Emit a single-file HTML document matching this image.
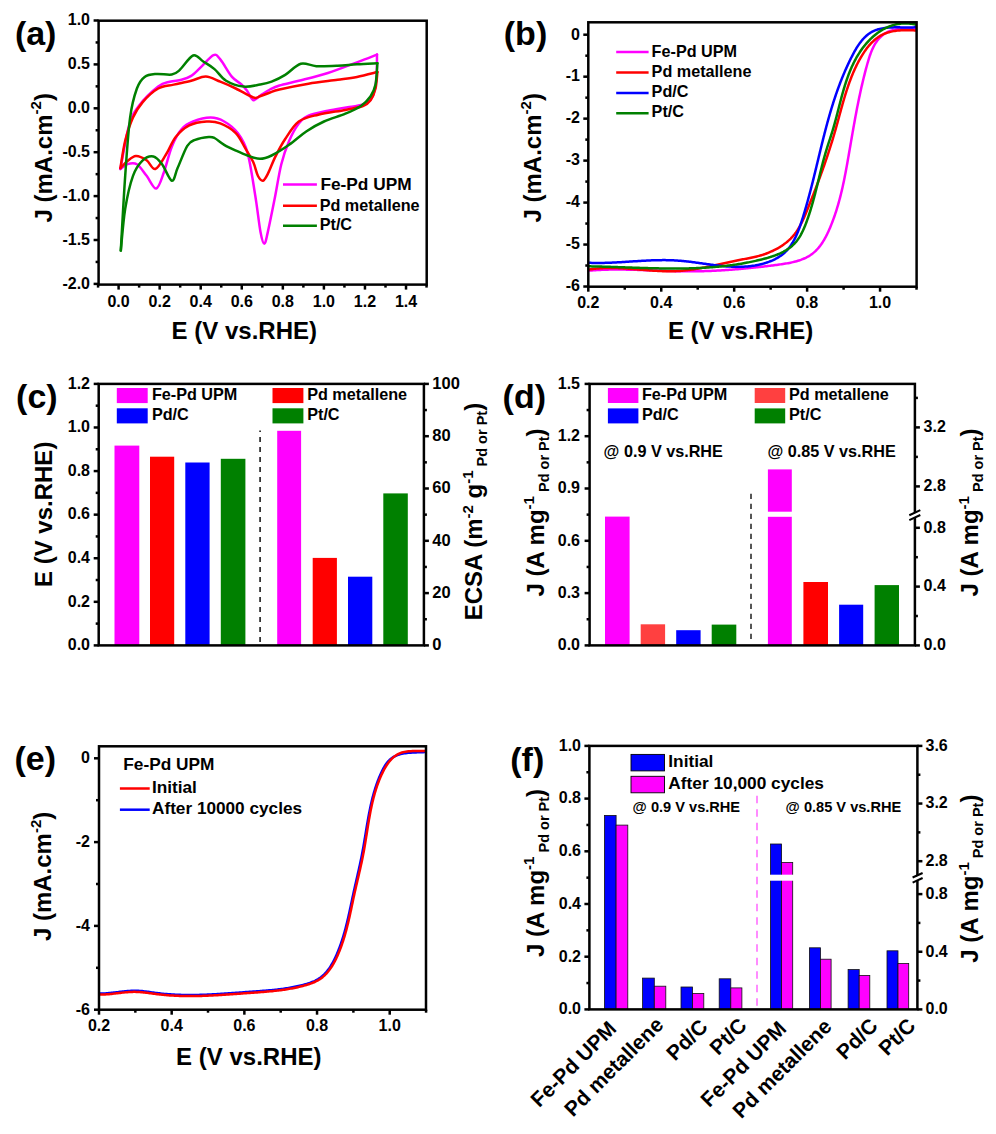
<!DOCTYPE html><html><head><meta charset="utf-8"><style>html,body{margin:0;padding:0;background:#fff;}svg{display:block;font-family:"Liberation Sans",sans-serif;}</style></head><body>
<svg width="996" height="1134" viewBox="0 0 996 1134" font-family="Liberation Sans" font-weight="bold" fill="#000">
<rect x="0" y="0" width="996" height="1134" fill="#fff"/>
<text x="14.90" y="44.60" font-size="34" text-anchor="start" >(a)</text>
<text x="503.80" y="44.60" font-size="34" text-anchor="start" >(b)</text>
<text x="16.10" y="407.80" font-size="34" text-anchor="start" >(c)</text>
<text x="502.60" y="407.80" font-size="34" text-anchor="start" >(d)</text>
<text x="14.50" y="769.60" font-size="34" text-anchor="start" >(e)</text>
<text x="510.30" y="770.80" font-size="34" text-anchor="start" >(f)</text>
<path d="M120.40,169.00 C121.85,161.73 126.03,135.90 129.10,125.40 C132.17,114.90 133.95,112.47 138.80,106.00 C143.65,99.53 153.02,90.65 158.20,86.60 C163.38,82.55 166.02,82.83 169.90,81.70 C173.78,80.57 177.95,80.77 181.50,79.80 C185.05,78.83 187.97,78.00 191.20,75.90 C194.43,73.80 197.18,70.67 200.90,67.20 C204.62,63.73 210.27,56.40 213.50,55.10 C216.73,53.80 217.22,55.77 220.30,59.40 C223.38,63.03 228.43,72.70 232.00,76.90 C235.57,81.10 239.12,82.18 241.70,84.60 C244.28,87.02 245.57,88.80 247.50,91.40 C249.43,94.00 251.05,99.60 253.30,100.20 C255.55,100.80 258.22,96.78 261.00,95.00 C263.78,93.22 266.93,91.08 270.00,89.50 C273.07,87.92 274.60,86.95 279.40,85.50 C284.20,84.05 290.72,82.88 298.80,80.80 C306.88,78.72 318.20,76.08 327.90,73.00 C337.60,69.92 348.82,65.37 357.00,62.30 C365.18,59.23 373.67,55.88 377.00,54.60" fill="none" stroke="#FF00FF" stroke-width="2.5" stroke-linejoin="round" stroke-linecap="round"/>
<path d="M377.00,54.60 C376.90,58.63 377.13,71.85 376.40,78.80 C375.67,85.75 374.53,92.10 372.60,96.30 C370.67,100.50 368.68,102.22 364.80,104.00 C360.92,105.78 355.45,105.87 349.30,107.00 C343.15,108.13 334.70,109.35 327.90,110.80 C321.10,112.25 313.35,113.60 308.50,115.70 C303.65,117.80 302.03,119.20 298.80,123.40 C295.57,127.60 292.02,134.10 289.10,140.90 C286.18,147.70 283.72,154.50 281.30,164.20 C278.88,173.90 276.85,187.78 274.60,199.10 C272.35,210.42 269.52,224.65 267.80,232.10 C266.08,239.55 265.52,243.82 264.30,243.80 C263.08,243.78 262.02,240.10 260.50,232.00 C258.98,223.90 257.37,208.43 255.20,195.20 C253.03,181.97 250.40,162.95 247.50,152.60 C244.60,142.25 241.68,138.28 237.80,133.10 C233.92,127.92 228.73,124.08 224.20,121.50 C219.67,118.92 215.78,117.60 210.60,117.60 C205.42,117.60 197.95,119.55 193.10,121.50 C188.25,123.45 185.05,125.10 181.50,129.30 C177.95,133.50 174.72,139.58 171.80,146.70 C168.88,153.82 166.58,165.03 164.00,172.00 C161.42,178.97 159.20,187.87 156.30,188.50 C153.40,189.13 149.83,179.85 146.60,175.80 C143.37,171.75 140.13,166.13 136.90,164.20 C133.67,162.27 129.95,163.40 127.20,164.20 C124.45,165.00 121.53,168.20 120.40,169.00" fill="none" stroke="#FF00FF" stroke-width="2.5" stroke-linejoin="round" stroke-linecap="round"/>
<path d="M120.40,168.10 C121.20,163.57 123.10,149.32 125.20,140.90 C127.30,132.48 130.08,124.07 133.00,117.60 C135.92,111.13 138.50,106.95 142.70,102.10 C146.90,97.25 153.03,91.42 158.20,88.50 C163.37,85.58 168.20,85.88 173.70,84.60 C179.20,83.32 185.85,82.15 191.20,80.80 C196.55,79.45 200.95,76.35 205.80,76.50 C210.65,76.65 215.30,79.70 220.30,81.70 C225.30,83.70 230.30,85.87 235.80,88.50 C241.30,91.13 249.27,96.20 253.30,97.50 C257.33,98.80 257.22,97.13 260.00,96.30 C262.78,95.47 266.77,93.63 270.00,92.50 C273.23,91.37 272.98,90.97 279.40,89.50 C285.82,88.03 298.80,85.32 308.50,83.70 C318.20,82.08 329.52,80.93 337.60,79.80 C345.68,78.67 350.37,78.20 357.00,76.90 C363.63,75.60 374.00,72.82 377.40,72.00" fill="none" stroke="#FF0000" stroke-width="2.5" stroke-linejoin="round" stroke-linecap="round"/>
<path d="M377.40,72.00 C377.08,74.75 376.63,83.80 375.50,88.50 C374.37,93.20 372.70,97.28 370.60,100.20 C368.50,103.12 367.10,104.38 362.90,106.00 C358.70,107.62 352.85,108.45 345.40,109.90 C337.95,111.35 325.97,112.77 318.20,114.70 C310.43,116.63 304.30,117.45 298.80,121.50 C293.30,125.55 289.08,133.18 285.20,139.00 C281.32,144.82 278.40,150.58 275.50,156.40 C272.60,162.22 269.88,169.85 267.80,173.90 C265.72,177.95 264.63,180.35 263.00,180.70 C261.37,181.05 259.62,179.07 258.00,176.00 C256.38,172.93 255.38,166.85 253.30,162.30 C251.22,157.75 248.42,153.57 245.50,148.70 C242.58,143.83 240.00,137.32 235.80,133.10 C231.60,128.88 225.15,125.33 220.30,123.40 C215.45,121.47 211.87,121.17 206.70,121.50 C201.53,121.83 194.47,122.82 189.30,125.40 C184.13,127.98 179.58,132.15 175.70,137.00 C171.82,141.85 169.40,149.17 166.00,154.50 C162.60,159.83 158.53,168.03 155.30,169.00 C152.07,169.97 149.83,162.47 146.60,160.30 C143.37,158.13 139.13,155.83 135.90,156.00 C132.67,156.17 129.78,159.28 127.20,161.30 C124.62,163.32 121.53,166.97 120.40,168.10" fill="none" stroke="#FF0000" stroke-width="2.5" stroke-linejoin="round" stroke-linecap="round"/>
<path d="M120.80,250.60 C121.53,238.13 123.65,197.97 125.20,175.80 C126.75,153.63 128.15,132.15 130.10,117.60 C132.05,103.05 134.48,95.28 136.90,88.50 C139.32,81.72 141.37,79.32 144.60,76.90 C147.83,74.48 151.77,74.40 156.30,74.00 C160.83,73.60 167.92,75.15 171.80,74.50 C175.68,73.85 176.05,73.27 179.60,70.10 C183.15,66.93 189.22,56.97 193.10,55.50 C196.98,54.03 199.33,59.03 202.90,61.30 C206.47,63.57 210.63,65.85 214.50,69.10 C218.37,72.35 221.25,77.88 226.10,80.80 C230.95,83.72 237.95,85.97 243.60,86.60 C249.25,87.23 255.33,85.42 260.00,84.60 C264.67,83.78 267.40,83.32 271.60,81.70 C275.80,80.08 280.33,77.90 285.20,74.90 C290.07,71.90 295.62,65.15 300.80,63.70 C305.98,62.25 310.17,65.85 316.30,66.20 C322.43,66.55 330.82,66.12 337.60,65.80 C344.38,65.48 350.37,64.72 357.00,64.30 C363.63,63.88 374.00,63.47 377.40,63.30" fill="none" stroke="#008000" stroke-width="2.5" stroke-linejoin="round" stroke-linecap="round"/>
<path d="M377.40,63.30 C377.08,66.85 376.63,79.10 375.50,84.60 C374.37,90.10 373.03,92.73 370.60,96.30 C368.17,99.87 365.10,103.10 360.90,106.00 C356.70,108.90 351.55,111.12 345.40,113.70 C339.25,116.28 330.47,118.58 324.00,121.50 C317.53,124.42 312.42,127.32 306.60,131.20 C300.78,135.08 294.93,140.75 289.10,144.80 C283.27,148.85 276.45,153.17 271.60,155.50 C266.75,157.83 264.02,158.80 260.00,158.80 C255.98,158.80 251.53,156.87 247.50,155.50 C243.47,154.13 239.68,152.38 235.80,150.60 C231.92,148.82 227.75,146.90 224.20,144.80 C220.65,142.70 217.08,139.30 214.50,138.00 C211.92,136.70 211.93,136.68 208.70,137.00 C205.47,137.32 198.67,138.43 195.10,139.90 C191.53,141.37 190.22,141.10 187.30,145.80 C184.38,150.50 180.18,162.28 177.60,168.10 C175.02,173.92 174.38,181.35 171.80,180.70 C169.22,180.05 165.17,168.25 162.10,164.20 C159.03,160.15 156.63,157.05 153.40,156.40 C150.17,155.75 146.10,157.07 142.70,160.30 C139.30,163.53 135.92,167.72 133.00,175.80 C130.08,183.88 127.23,196.33 125.20,208.80 C123.17,221.27 121.53,243.63 120.80,250.60" fill="none" stroke="#008000" stroke-width="2.5" stroke-linejoin="round" stroke-linecap="round"/>
<rect x="98.60" y="20.70" width="328.10" height="263.90" fill="none" stroke="#000" stroke-width="2.5"/>
<line x1="93.60" y1="283.90" x2="98.60" y2="283.90" stroke="#000" stroke-width="2.5" />
<line x1="93.60" y1="240.00" x2="98.60" y2="240.00" stroke="#000" stroke-width="2.5" />
<line x1="93.60" y1="196.10" x2="98.60" y2="196.10" stroke="#000" stroke-width="2.5" />
<line x1="93.60" y1="152.20" x2="98.60" y2="152.20" stroke="#000" stroke-width="2.5" />
<line x1="93.60" y1="108.30" x2="98.60" y2="108.30" stroke="#000" stroke-width="2.5" />
<line x1="93.60" y1="64.40" x2="98.60" y2="64.40" stroke="#000" stroke-width="2.5" />
<line x1="93.60" y1="20.50" x2="98.60" y2="20.50" stroke="#000" stroke-width="2.5" />
<line x1="95.60" y1="261.95" x2="98.60" y2="261.95" stroke="#000" stroke-width="2.5" />
<line x1="95.60" y1="218.05" x2="98.60" y2="218.05" stroke="#000" stroke-width="2.5" />
<line x1="95.60" y1="174.15" x2="98.60" y2="174.15" stroke="#000" stroke-width="2.5" />
<line x1="95.60" y1="130.25" x2="98.60" y2="130.25" stroke="#000" stroke-width="2.5" />
<line x1="95.60" y1="86.35" x2="98.60" y2="86.35" stroke="#000" stroke-width="2.5" />
<line x1="95.60" y1="42.45" x2="98.60" y2="42.45" stroke="#000" stroke-width="2.5" />
<text x="90.00" y="288.70" font-size="16" text-anchor="end" >-2.0</text>
<text x="90.00" y="244.80" font-size="16" text-anchor="end" >-1.5</text>
<text x="90.00" y="200.90" font-size="16" text-anchor="end" >-1.0</text>
<text x="90.00" y="157.00" font-size="16" text-anchor="end" >-0.5</text>
<text x="90.00" y="113.10" font-size="16" text-anchor="end" >0.0</text>
<text x="90.00" y="69.20" font-size="16" text-anchor="end" >0.5</text>
<text x="90.00" y="25.30" font-size="16" text-anchor="end" >1.0</text>
<line x1="118.60" y1="284.60" x2="118.60" y2="289.60" stroke="#000" stroke-width="2.5" />
<line x1="159.66" y1="284.60" x2="159.66" y2="289.60" stroke="#000" stroke-width="2.5" />
<line x1="200.72" y1="284.60" x2="200.72" y2="289.60" stroke="#000" stroke-width="2.5" />
<line x1="241.78" y1="284.60" x2="241.78" y2="289.60" stroke="#000" stroke-width="2.5" />
<line x1="282.84" y1="284.60" x2="282.84" y2="289.60" stroke="#000" stroke-width="2.5" />
<line x1="323.90" y1="284.60" x2="323.90" y2="289.60" stroke="#000" stroke-width="2.5" />
<line x1="364.96" y1="284.60" x2="364.96" y2="289.60" stroke="#000" stroke-width="2.5" />
<line x1="406.02" y1="284.60" x2="406.02" y2="289.60" stroke="#000" stroke-width="2.5" />
<line x1="98.07" y1="284.60" x2="98.07" y2="287.60" stroke="#000" stroke-width="2.5" />
<line x1="139.13" y1="284.60" x2="139.13" y2="287.60" stroke="#000" stroke-width="2.5" />
<line x1="180.19" y1="284.60" x2="180.19" y2="287.60" stroke="#000" stroke-width="2.5" />
<line x1="221.25" y1="284.60" x2="221.25" y2="287.60" stroke="#000" stroke-width="2.5" />
<line x1="262.31" y1="284.60" x2="262.31" y2="287.60" stroke="#000" stroke-width="2.5" />
<line x1="303.37" y1="284.60" x2="303.37" y2="287.60" stroke="#000" stroke-width="2.5" />
<line x1="344.43" y1="284.60" x2="344.43" y2="287.60" stroke="#000" stroke-width="2.5" />
<line x1="385.49" y1="284.60" x2="385.49" y2="287.60" stroke="#000" stroke-width="2.5" />
<line x1="426.55" y1="284.60" x2="426.55" y2="287.60" stroke="#000" stroke-width="2.5" />
<text x="118.60" y="306.50" font-size="16" text-anchor="middle" >0.0</text>
<text x="159.66" y="306.50" font-size="16" text-anchor="middle" >0.2</text>
<text x="200.72" y="306.50" font-size="16" text-anchor="middle" >0.4</text>
<text x="241.78" y="306.50" font-size="16" text-anchor="middle" >0.6</text>
<text x="282.84" y="306.50" font-size="16" text-anchor="middle" >0.8</text>
<text x="323.90" y="306.50" font-size="16" text-anchor="middle" >1.0</text>
<text x="364.96" y="306.50" font-size="16" text-anchor="middle" >1.2</text>
<text x="406.02" y="306.50" font-size="16" text-anchor="middle" >1.4</text>
<text x="171.60" y="338.50" font-size="24" text-anchor="start" >E (V vs.RHE)</text>
<text transform="translate(51.80,222.50) rotate(-90)" font-size="24">J (mA.cm<tspan font-size="15" dy="-10.5">-2</tspan><tspan dy="10.5">)</tspan></text>
<line x1="283.00" y1="184.60" x2="316.90" y2="184.60" stroke="#FF00FF" stroke-width="2.5" />
<line x1="283.00" y1="205.70" x2="316.90" y2="205.70" stroke="#FF0000" stroke-width="2.5" />
<line x1="283.00" y1="225.70" x2="316.90" y2="225.70" stroke="#008000" stroke-width="2.5" />
<text x="320.40" y="189.60" font-size="17.3" text-anchor="start" >Fe-Pd UPM</text>
<text x="319.70" y="210.70" font-size="16.2" text-anchor="start" >Pd metallene</text>
<text x="319.70" y="230.20" font-size="16.2" text-anchor="start" >Pt/C</text>
<clipPath id="cb"><rect x="588.3" y="22.3" width="328.30000000000007" height="264.4"/></clipPath>
<g clip-path="url(#cb)">
<path d="M588.36,270.67 L589.57,270.57 L590.78,270.47 L592.00,270.38 L593.22,270.29 L594.44,270.21 L595.66,270.14 L596.88,270.07 L598.10,270.00 L599.33,269.94 L600.56,269.89 L601.78,269.83 L603.01,269.79 L604.24,269.75 L605.48,269.71 L606.71,269.68 L607.94,269.65 L609.18,269.62 L610.41,269.60 L611.65,269.58 L612.89,269.57 L614.13,269.56 L615.37,269.55 L616.61,269.55 L617.85,269.55 L619.09,269.55 L620.34,269.56 L621.58,269.56 L622.83,269.58 L624.07,269.59 L625.32,269.61 L626.57,269.63 L627.82,269.65 L629.06,269.67 L630.31,269.70 L631.56,269.73 L632.81,269.76 L634.06,269.79 L635.31,269.82 L636.56,269.86 L637.81,269.89 L639.07,269.93 L640.32,269.97 L641.57,270.01 L642.82,270.05 L644.07,270.09 L645.33,270.14 L646.58,270.18 L647.83,270.22 L649.08,270.27 L650.34,270.31 L651.59,270.36 L652.84,270.41 L654.09,270.45 L655.35,270.50 L656.60,270.54 L657.85,270.59 L659.10,270.63 L660.35,270.68 L661.60,270.72 L662.85,270.76 L664.10,270.81 L665.35,270.85 L666.60,270.89 L667.85,270.93 L669.09,270.97 L670.34,271.00 L671.59,271.04 L672.83,271.07 L674.08,271.10 L675.32,271.13 L676.57,271.16 L677.81,271.19 L679.05,271.21 L680.29,271.24 L681.53,271.25 L682.77,271.27 L684.01,271.29 L685.24,271.30 L686.48,271.31 L687.72,271.31 L688.95,271.32 L690.18,271.32 L691.41,271.31 L692.64,271.31 L693.87,271.30 L695.10,271.29 L696.33,271.27 L697.56,271.26 L698.78,271.24 L700.01,271.21 L701.23,271.19 L702.46,271.16 L703.68,271.13 L704.90,271.09 L706.12,271.06 L707.35,271.02 L708.57,270.97 L709.79,270.93 L711.01,270.88 L712.23,270.83 L713.45,270.77 L714.67,270.72 L715.89,270.66 L717.11,270.60 L718.33,270.53 L719.55,270.47 L720.77,270.40 L722.00,270.32 L723.22,270.25 L724.44,270.17 L725.66,270.09 L726.88,270.01 L728.10,269.93 L729.33,269.84 L730.55,269.75 L731.77,269.66 L733.00,269.57 L734.22,269.47 L735.45,269.37 L736.68,269.27 L737.91,269.17 L739.13,269.06 L740.36,268.95 L741.59,268.84 L742.83,268.73 L744.06,268.61 L745.29,268.50 L746.53,268.38 L747.76,268.26 L749.00,268.13 L750.24,268.01 L751.48,267.88 L752.72,267.75 L753.96,267.62 L755.21,267.48 L756.45,267.35 L757.70,267.21 L758.95,267.07 L760.20,266.93 L761.45,266.78 L762.71,266.64 L763.97,266.49 L765.22,266.34 L766.48,266.19 L767.75,266.03 L769.01,265.88 L770.28,265.72 L771.55,265.56 L772.82,265.40 L774.09,265.24 L775.37,265.07 L776.64,264.91 L777.92,264.74 L779.20,264.56 L780.48,264.38 L781.76,264.20 L783.04,264.01 L784.31,263.81 L785.58,263.60 L786.85,263.38 L788.11,263.15 L789.36,262.91 L790.61,262.66 L791.85,262.39 L793.08,262.11 L794.30,261.81 L795.51,261.50 L796.71,261.17 L797.89,260.82 L799.07,260.45 L800.23,260.06 L801.38,259.65 L802.51,259.21 L803.62,258.75 L804.72,258.27 L805.80,257.76 L806.86,257.23 L807.90,256.67 L808.93,256.07 L809.93,255.45 L810.90,254.80 L811.86,254.12 L812.79,253.41 L813.70,252.66 L814.59,251.89 L815.45,251.08 L816.29,250.25 L817.11,249.39 L817.91,248.50 L818.69,247.59 L819.45,246.65 L820.19,245.69 L820.91,244.71 L821.62,243.71 L822.30,242.69 L822.97,241.65 L823.62,240.59 L824.26,239.52 L824.88,238.43 L825.49,237.33 L826.08,236.21 L826.66,235.08 L827.22,233.95 L827.78,232.80 L828.31,231.65 L828.84,230.48 L829.36,229.31 L829.86,228.14 L830.36,226.96 L830.85,225.78 L831.32,224.60 L831.79,223.41 L832.25,222.23 L832.70,221.04 L833.15,219.86 L833.58,218.67 L834.01,217.48 L834.43,216.29 L834.84,215.10 L835.24,213.90 L835.64,212.71 L836.02,211.52 L836.41,210.32 L836.78,209.12 L837.15,207.93 L837.51,206.73 L837.86,205.53 L838.21,204.33 L838.55,203.13 L838.89,201.93 L839.22,200.73 L839.54,199.52 L839.86,198.32 L840.17,197.12 L840.48,195.91 L840.78,194.71 L841.08,193.50 L841.37,192.29 L841.66,191.09 L841.94,189.88 L842.22,188.67 L842.50,187.46 L842.76,186.25 L843.03,185.04 L843.29,183.83 L843.55,182.62 L843.80,181.41 L844.05,180.20 L844.30,178.99 L844.55,177.78 L844.79,176.56 L845.03,175.35 L845.26,174.14 L845.49,172.93 L845.72,171.71 L845.95,170.50 L846.18,169.29 L846.40,168.07 L846.62,166.86 L846.84,165.65 L847.06,164.43 L847.28,163.22 L847.50,162.00 L847.71,160.79 L847.93,159.58 L848.14,158.36 L848.35,157.15 L848.56,155.93 L848.77,154.72 L848.98,153.51 L849.19,152.29 L849.40,151.08 L849.61,149.87 L849.82,148.65 L850.03,147.44 L850.24,146.23 L850.45,145.01 L850.66,143.80 L850.87,142.59 L851.08,141.37 L851.29,140.16 L851.50,138.95 L851.71,137.73 L851.92,136.52 L852.13,135.31 L852.34,134.09 L852.55,132.88 L852.76,131.66 L852.97,130.45 L853.19,129.24 L853.40,128.02 L853.62,126.81 L853.83,125.59 L854.05,124.38 L854.27,123.16 L854.49,121.95 L854.71,120.73 L854.93,119.52 L855.15,118.30 L855.38,117.09 L855.60,115.87 L855.83,114.65 L856.06,113.44 L856.29,112.22 L856.52,111.00 L856.76,109.79 L856.99,108.57 L857.23,107.35 L857.47,106.13 L857.71,104.91 L857.95,103.70 L858.20,102.48 L858.45,101.26 L858.70,100.04 L858.95,98.82 L859.20,97.60 L859.46,96.38 L859.72,95.16 L859.98,93.94 L860.24,92.71 L860.51,91.49 L860.78,90.27 L861.05,89.05 L861.33,87.82 L861.60,86.60 L861.89,85.38 L862.17,84.15 L862.46,82.93 L862.75,81.70 L863.04,80.47 L863.34,79.25 L863.64,78.02 L863.94,76.79 L864.25,75.57 L864.56,74.34 L864.87,73.11 L865.19,71.88 L865.51,70.65 L865.83,69.42 L866.16,68.19 L866.49,66.96 L866.83,65.72 L867.17,64.49 L867.51,63.26 L867.87,62.03 L868.23,60.81 L868.59,59.58 L868.97,58.37 L869.36,57.16 L869.76,55.96 L870.17,54.77 L870.60,53.59 L871.04,52.43 L871.49,51.27 L871.97,50.13 L872.46,49.01 L872.97,47.91 L873.50,46.82 L874.06,45.76 L874.63,44.71 L875.23,43.69 L875.86,42.69 L876.51,41.72 L877.19,40.77 L877.89,39.86 L878.63,38.97 L879.39,38.11 L880.19,37.28 L881.02,36.49 L881.88,35.72 L882.77,35.00 L883.71,34.31 L884.67,33.66 L885.68,33.05 L886.73,32.48 L887.81,31.95 L888.94,31.46 L890.10,31.02 L891.30,30.61 L892.52,30.25 L893.78,29.92 L895.05,29.62 L896.35,29.37 L897.66,29.14 L898.99,28.95 L900.32,28.79 L901.66,28.65 L903.00,28.55 L904.34,28.47 L905.68,28.42 L907.01,28.39 L908.32,28.38 L909.62,28.40 L910.90,28.43 L912.16,28.49 L913.40,28.56 L914.60,28.64 L915.77,28.74 L916.91,28.86" fill="none" stroke="#FF00FF" stroke-width="2.5" stroke-linejoin="round" stroke-linecap="round"/>
<path d="M588.33,269.72 L589.49,269.53 L590.65,269.34 L591.82,269.17 L592.98,269.02 L594.15,268.87 L595.32,268.74 L596.49,268.62 L597.66,268.51 L598.83,268.41 L600.00,268.32 L601.17,268.24 L602.34,268.18 L603.52,268.12 L604.69,268.08 L605.87,268.04 L607.04,268.01 L608.22,267.99 L609.39,267.98 L610.57,267.98 L611.75,267.98 L612.93,268.00 L614.11,268.02 L615.29,268.04 L616.47,268.08 L617.65,268.12 L618.83,268.16 L620.01,268.21 L621.19,268.27 L622.37,268.33 L623.56,268.40 L624.74,268.47 L625.92,268.54 L627.11,268.62 L628.29,268.70 L629.47,268.79 L630.66,268.88 L631.84,268.97 L633.02,269.06 L634.21,269.15 L635.39,269.25 L636.58,269.34 L637.76,269.44 L638.94,269.54 L640.13,269.64 L641.31,269.74 L642.50,269.84 L643.68,269.93 L644.86,270.03 L646.05,270.12 L647.23,270.22 L648.41,270.31 L649.60,270.40 L650.78,270.48 L651.96,270.57 L653.15,270.65 L654.33,270.72 L655.51,270.80 L656.69,270.87 L657.87,270.93 L659.05,270.99 L660.23,271.04 L661.41,271.09 L662.59,271.14 L663.77,271.17 L664.94,271.20 L666.12,271.23 L667.30,271.25 L668.47,271.26 L669.65,271.26 L670.82,271.25 L672.00,271.24 L673.17,271.22 L674.34,271.18 L675.51,271.14 L676.68,271.09 L677.85,271.03 L679.02,270.96 L680.19,270.88 L681.36,270.79 L682.53,270.69 L683.69,270.59 L684.86,270.47 L686.02,270.35 L687.19,270.21 L688.35,270.07 L689.51,269.92 L690.67,269.77 L691.84,269.60 L693.00,269.43 L694.16,269.26 L695.32,269.07 L696.48,268.88 L697.64,268.69 L698.80,268.49 L699.95,268.28 L701.11,268.07 L702.27,267.85 L703.43,267.63 L704.59,267.41 L705.75,267.18 L706.90,266.95 L708.06,266.71 L709.22,266.47 L710.37,266.23 L711.53,265.99 L712.69,265.74 L713.85,265.49 L715.00,265.24 L716.16,264.99 L717.32,264.73 L718.48,264.48 L719.63,264.22 L720.79,263.97 L721.95,263.71 L723.11,263.45 L724.27,263.20 L725.43,262.94 L726.59,262.68 L727.75,262.43 L728.91,262.18 L730.07,261.93 L731.23,261.68 L732.39,261.43 L733.56,261.18 L734.72,260.94 L735.88,260.70 L737.05,260.47 L738.21,260.23 L739.38,260.00 L740.54,259.78 L741.71,259.55 L742.88,259.33 L744.04,259.11 L745.21,258.89 L746.38,258.67 L747.54,258.45 L748.71,258.22 L749.87,257.99 L751.03,257.75 L752.19,257.51 L753.35,257.26 L754.51,257.00 L755.66,256.73 L756.82,256.45 L757.97,256.15 L759.11,255.85 L760.25,255.53 L761.39,255.19 L762.53,254.84 L763.66,254.47 L764.79,254.09 L765.91,253.70 L767.02,253.29 L768.13,252.86 L769.23,252.42 L770.32,251.96 L771.41,251.48 L772.49,250.99 L773.56,250.49 L774.61,249.96 L775.66,249.42 L776.70,248.87 L777.73,248.30 L778.75,247.71 L779.75,247.11 L780.75,246.48 L781.73,245.85 L782.69,245.19 L783.65,244.52 L784.59,243.83 L785.51,243.13 L786.42,242.41 L787.31,241.67 L788.19,240.91 L789.05,240.14 L789.89,239.35 L790.72,238.54 L791.53,237.71 L792.32,236.87 L793.09,236.00 L793.84,235.12 L794.57,234.23 L795.28,233.31 L795.97,232.38 L796.64,231.42 L797.29,230.46 L797.92,229.47 L798.53,228.48 L799.13,227.47 L799.71,226.44 L800.28,225.41 L800.83,224.36 L801.37,223.30 L801.90,222.23 L802.42,221.16 L802.92,220.07 L803.42,218.98 L803.91,217.89 L804.39,216.78 L804.86,215.68 L805.33,214.57 L805.79,213.46 L806.25,212.34 L806.70,211.23 L807.15,210.11 L807.60,209.00 L808.05,207.88 L808.50,206.77 L808.94,205.66 L809.38,204.55 L809.83,203.44 L810.27,202.33 L810.71,201.22 L811.14,200.11 L811.58,199.01 L812.02,197.90 L812.45,196.80 L812.88,195.69 L813.31,194.59 L813.74,193.48 L814.17,192.38 L814.59,191.28 L815.02,190.18 L815.44,189.07 L815.86,187.97 L816.28,186.87 L816.70,185.77 L817.12,184.67 L817.53,183.57 L817.94,182.47 L818.36,181.37 L818.77,180.27 L819.17,179.17 L819.58,178.07 L819.98,176.97 L820.39,175.87 L820.79,174.77 L821.19,173.67 L821.59,172.57 L821.98,171.47 L822.38,170.37 L822.77,169.27 L823.16,168.17 L823.55,167.06 L823.94,165.96 L824.33,164.86 L824.71,163.75 L825.09,162.65 L825.47,161.54 L825.85,160.44 L826.23,159.33 L826.60,158.23 L826.98,157.12 L827.35,156.01 L827.72,154.90 L828.08,153.79 L828.45,152.68 L828.81,151.57 L829.17,150.45 L829.53,149.34 L829.89,148.22 L830.25,147.11 L830.60,145.99 L830.96,144.87 L831.31,143.75 L831.65,142.63 L832.00,141.51 L832.34,140.38 L832.69,139.26 L833.03,138.13 L833.37,137.00 L833.70,135.87 L834.04,134.74 L834.37,133.61 L834.70,132.47 L835.03,131.33 L835.35,130.20 L835.68,129.06 L836.00,127.91 L836.32,126.77 L836.64,125.62 L836.95,124.48 L837.27,123.33 L837.59,122.18 L837.90,121.03 L838.21,119.88 L838.53,118.73 L838.84,117.58 L839.15,116.43 L839.47,115.27 L839.78,114.12 L840.09,112.97 L840.41,111.81 L840.73,110.66 L841.04,109.51 L841.36,108.35 L841.68,107.20 L842.00,106.05 L842.33,104.90 L842.65,103.75 L842.98,102.60 L843.31,101.45 L843.64,100.30 L843.98,99.15 L844.32,98.01 L844.66,96.86 L845.01,95.72 L845.36,94.58 L845.71,93.44 L846.07,92.30 L846.43,91.17 L846.79,90.04 L847.16,88.90 L847.54,87.78 L847.92,86.65 L848.30,85.53 L848.69,84.40 L849.09,83.29 L849.49,82.17 L849.90,81.06 L850.31,79.95 L850.73,78.84 L851.16,77.74 L851.59,76.64 L852.03,75.55 L852.48,74.45 L852.93,73.37 L853.39,72.28 L853.86,71.20 L854.34,70.12 L854.82,69.05 L855.31,67.99 L855.81,66.92 L856.32,65.86 L856.84,64.81 L857.37,63.76 L857.91,62.72 L858.45,61.68 L859.01,60.65 L859.57,59.62 L860.15,58.59 L860.73,57.58 L861.33,56.56 L861.93,55.56 L862.55,54.56 L863.18,53.57 L863.82,52.59 L864.47,51.62 L865.13,50.65 L865.81,49.70 L866.50,48.77 L867.20,47.84 L867.92,46.93 L868.65,46.04 L869.40,45.16 L870.16,44.30 L870.93,43.46 L871.73,42.64 L872.53,41.84 L873.36,41.06 L874.20,40.30 L875.06,39.56 L875.93,38.85 L876.83,38.16 L877.74,37.50 L878.67,36.86 L879.62,36.26 L880.59,35.68 L881.57,35.13 L882.58,34.61 L883.61,34.12 L884.66,33.67 L885.73,33.25 L886.82,32.86 L887.93,32.50 L889.06,32.17 L890.20,31.87 L891.36,31.60 L892.53,31.36 L893.71,31.14 L894.91,30.95 L896.11,30.78 L897.33,30.63 L898.55,30.51 L899.77,30.41 L901.01,30.32 L902.24,30.26 L903.48,30.21 L904.72,30.18 L905.96,30.17 L907.20,30.17 L908.44,30.18 L909.67,30.21 L910.90,30.25 L912.12,30.30 L913.33,30.36 L914.54,30.42 L915.73,30.50 L916.91,30.58" fill="none" stroke="#FF0000" stroke-width="2.5" stroke-linejoin="round" stroke-linecap="round"/>
<path d="M588.31,262.76 L589.52,262.81 L590.73,262.86 L591.94,262.89 L593.15,262.92 L594.36,262.94 L595.58,262.96 L596.79,262.97 L598.00,262.97 L599.22,262.97 L600.43,262.96 L601.65,262.94 L602.86,262.92 L604.08,262.90 L605.30,262.87 L606.51,262.84 L607.73,262.80 L608.95,262.76 L610.17,262.71 L611.38,262.66 L612.60,262.61 L613.82,262.55 L615.04,262.49 L616.26,262.43 L617.48,262.36 L618.70,262.29 L619.92,262.22 L621.14,262.15 L622.36,262.08 L623.58,262.00 L624.81,261.93 L626.03,261.85 L627.25,261.77 L628.47,261.69 L629.69,261.61 L630.91,261.53 L632.14,261.45 L633.36,261.37 L634.58,261.29 L635.80,261.22 L637.02,261.14 L638.25,261.06 L639.47,260.99 L640.69,260.92 L641.91,260.84 L643.13,260.77 L644.35,260.71 L645.58,260.64 L646.80,260.58 L648.02,260.52 L649.24,260.47 L650.46,260.41 L651.68,260.36 L652.90,260.32 L654.12,260.28 L655.34,260.24 L656.56,260.21 L657.78,260.18 L659.00,260.16 L660.22,260.14 L661.44,260.13 L662.65,260.12 L663.87,260.12 L665.09,260.12 L666.31,260.13 L667.52,260.15 L668.74,260.17 L669.96,260.20 L671.17,260.24 L672.38,260.29 L673.60,260.34 L674.81,260.40 L676.03,260.47 L677.24,260.54 L678.45,260.63 L679.66,260.72 L680.87,260.82 L682.08,260.93 L683.29,261.04 L684.50,261.17 L685.71,261.29 L686.92,261.43 L688.13,261.57 L689.34,261.71 L690.54,261.86 L691.75,262.01 L692.96,262.17 L694.17,262.33 L695.37,262.49 L696.58,262.65 L697.79,262.82 L698.99,262.99 L700.20,263.16 L701.41,263.33 L702.61,263.50 L703.82,263.67 L705.03,263.84 L706.23,264.01 L707.44,264.18 L708.65,264.35 L709.85,264.51 L711.06,264.67 L712.27,264.83 L713.48,264.99 L714.68,265.14 L715.89,265.29 L717.10,265.43 L718.31,265.57 L719.52,265.71 L720.73,265.84 L721.94,265.96 L723.15,266.07 L724.37,266.18 L725.58,266.29 L726.79,266.38 L728.00,266.46 L729.22,266.54 L730.43,266.61 L731.65,266.67 L732.87,266.72 L734.08,266.76 L735.30,266.79 L736.52,266.80 L737.74,266.81 L738.96,266.80 L740.18,266.78 L741.40,266.75 L742.63,266.71 L743.85,266.65 L745.08,266.58 L746.30,266.50 L747.53,266.40 L748.76,266.28 L749.99,266.15 L751.22,266.00 L752.45,265.84 L753.68,265.66 L754.91,265.47 L756.14,265.25 L757.36,265.02 L758.58,264.78 L759.80,264.51 L761.01,264.22 L762.21,263.92 L763.41,263.60 L764.60,263.26 L765.78,262.90 L766.95,262.52 L768.11,262.12 L769.25,261.70 L770.39,261.25 L771.51,260.79 L772.62,260.31 L773.71,259.80 L774.79,259.27 L775.85,258.72 L776.89,258.15 L777.91,257.55 L778.92,256.94 L779.90,256.29 L780.87,255.63 L781.81,254.94 L782.73,254.22 L783.63,253.48 L784.50,252.72 L785.34,251.93 L786.17,251.12 L786.96,250.28 L787.74,249.42 L788.48,248.53 L789.21,247.62 L789.91,246.70 L790.60,245.75 L791.26,244.78 L791.90,243.79 L792.53,242.79 L793.13,241.76 L793.72,240.72 L794.29,239.67 L794.84,238.60 L795.38,237.52 L795.90,236.42 L796.41,235.31 L796.90,234.19 L797.38,233.06 L797.85,231.92 L798.31,230.77 L798.75,229.61 L799.19,228.45 L799.61,227.28 L800.03,226.10 L800.44,224.91 L800.84,223.73 L801.24,222.54 L801.63,221.34 L802.01,220.15 L802.39,218.95 L802.76,217.75 L803.14,216.56 L803.50,215.36 L803.87,214.16 L804.23,212.97 L804.59,211.77 L804.94,210.58 L805.29,209.38 L805.64,208.18 L805.99,206.99 L806.33,205.79 L806.67,204.60 L807.01,203.40 L807.34,202.21 L807.67,201.02 L808.00,199.82 L808.33,198.63 L808.65,197.43 L808.97,196.24 L809.29,195.05 L809.61,193.85 L809.93,192.66 L810.24,191.47 L810.55,190.28 L810.86,189.09 L811.16,187.90 L811.47,186.70 L811.77,185.51 L812.08,184.32 L812.38,183.13 L812.68,181.94 L812.97,180.75 L813.27,179.57 L813.56,178.38 L813.86,177.19 L814.15,176.00 L814.44,174.81 L814.73,173.63 L815.02,172.44 L815.31,171.25 L815.60,170.07 L815.88,168.88 L816.17,167.70 L816.46,166.51 L816.74,165.33 L817.03,164.15 L817.31,162.96 L817.60,161.78 L817.88,160.60 L818.16,159.42 L818.45,158.23 L818.73,157.05 L819.02,155.87 L819.30,154.69 L819.58,153.51 L819.87,152.33 L820.15,151.16 L820.44,149.98 L820.73,148.80 L821.01,147.62 L821.30,146.45 L821.59,145.27 L821.88,144.10 L822.17,142.92 L822.46,141.75 L822.75,140.58 L823.04,139.40 L823.34,138.23 L823.63,137.06 L823.93,135.89 L824.23,134.72 L824.52,133.55 L824.83,132.38 L825.13,131.21 L825.43,130.04 L825.74,128.88 L826.04,127.71 L826.35,126.54 L826.67,125.38 L826.98,124.21 L827.29,123.05 L827.61,121.89 L827.93,120.72 L828.25,119.56 L828.58,118.40 L828.91,117.24 L829.24,116.08 L829.57,114.92 L829.90,113.76 L830.24,112.61 L830.58,111.45 L830.92,110.29 L831.27,109.14 L831.62,107.99 L831.97,106.83 L832.33,105.68 L832.69,104.53 L833.05,103.38 L833.41,102.23 L833.78,101.08 L834.16,99.93 L834.53,98.78 L834.91,97.63 L835.30,96.49 L835.68,95.34 L836.07,94.20 L836.47,93.05 L836.87,91.91 L837.27,90.77 L837.68,89.63 L838.09,88.49 L838.51,87.35 L838.93,86.21 L839.35,85.07 L839.78,83.94 L840.22,82.80 L840.66,81.67 L841.10,80.53 L841.55,79.40 L842.00,78.27 L842.46,77.14 L842.92,76.01 L843.39,74.88 L843.86,73.75 L844.34,72.62 L844.83,71.50 L845.32,70.37 L845.81,69.25 L846.31,68.12 L846.82,67.00 L847.33,65.88 L847.85,64.76 L848.37,63.64 L848.90,62.52 L849.44,61.41 L849.98,60.29 L850.53,59.18 L851.08,58.06 L851.64,56.95 L852.21,55.84 L852.78,54.73 L853.36,53.63 L853.95,52.53 L854.55,51.44 L855.16,50.36 L855.79,49.28 L856.42,48.22 L857.07,47.17 L857.73,46.13 L858.41,45.11 L859.10,44.11 L859.80,43.12 L860.53,42.15 L861.27,41.20 L862.03,40.28 L862.81,39.37 L863.61,38.50 L864.43,37.64 L865.27,36.82 L866.14,36.02 L867.02,35.26 L867.94,34.52 L868.87,33.82 L869.84,33.16 L870.83,32.52 L871.84,31.93 L872.89,31.37 L873.96,30.86 L875.06,30.38 L876.20,29.95 L877.36,29.56 L878.55,29.20 L879.77,28.89 L881.01,28.61 L882.27,28.37 L883.55,28.16 L884.84,27.98 L886.15,27.83 L887.47,27.70 L888.80,27.59 L890.14,27.51 L891.48,27.45 L892.82,27.40 L894.17,27.37 L895.51,27.36 L896.85,27.35 L898.18,27.36 L899.50,27.37 L900.81,27.39 L902.11,27.41 L903.39,27.43 L904.66,27.45 L905.90,27.47 L907.13,27.48 L908.32,27.49 L909.49,27.49 L910.63,27.47 L911.74,27.45 L912.82,27.41 L913.86,27.35 L914.86,27.27 L915.82,27.17 L916.73,27.05" fill="none" stroke="#0000FF" stroke-width="2.5" stroke-linejoin="round" stroke-linecap="round"/>
<path d="M588.29,266.33 L589.49,266.35 L590.70,266.37 L591.91,266.39 L593.12,266.41 L594.33,266.43 L595.54,266.46 L596.75,266.48 L597.95,266.51 L599.16,266.54 L600.37,266.57 L601.58,266.60 L602.79,266.63 L603.99,266.67 L605.20,266.70 L606.41,266.74 L607.62,266.77 L608.83,266.81 L610.03,266.85 L611.24,266.89 L612.45,266.92 L613.66,266.96 L614.86,267.00 L616.07,267.05 L617.28,267.09 L618.49,267.13 L619.69,267.17 L620.90,267.21 L622.11,267.25 L623.31,267.30 L624.52,267.34 L625.73,267.38 L626.94,267.43 L628.14,267.47 L629.35,267.51 L630.56,267.55 L631.76,267.60 L632.97,267.64 L634.18,267.68 L635.38,267.72 L636.59,267.76 L637.79,267.80 L639.00,267.84 L640.21,267.88 L641.41,267.92 L642.62,267.96 L643.83,268.00 L645.03,268.04 L646.24,268.07 L647.44,268.11 L648.65,268.14 L649.85,268.17 L651.06,268.21 L652.27,268.24 L653.47,268.27 L654.68,268.30 L655.88,268.32 L657.09,268.35 L658.29,268.37 L659.50,268.40 L660.70,268.42 L661.91,268.44 L663.11,268.46 L664.32,268.47 L665.52,268.49 L666.73,268.50 L667.93,268.51 L669.14,268.52 L670.34,268.53 L671.55,268.54 L672.75,268.54 L673.95,268.54 L675.16,268.54 L676.36,268.54 L677.57,268.54 L678.77,268.53 L679.97,268.52 L681.18,268.51 L682.38,268.49 L683.59,268.48 L684.79,268.46 L685.99,268.44 L687.20,268.41 L688.40,268.38 L689.60,268.35 L690.81,268.32 L692.01,268.29 L693.21,268.25 L694.42,268.21 L695.62,268.16 L696.82,268.11 L698.03,268.06 L699.23,268.01 L700.43,267.95 L701.63,267.89 L702.84,267.83 L704.04,267.76 L705.24,267.69 L706.44,267.61 L707.65,267.53 L708.85,267.45 L710.05,267.37 L711.25,267.28 L712.45,267.18 L713.66,267.09 L714.86,266.99 L716.06,266.88 L717.26,266.77 L718.46,266.66 L719.66,266.54 L720.87,266.42 L722.07,266.30 L723.27,266.17 L724.47,266.03 L725.67,265.90 L726.87,265.75 L728.07,265.61 L729.27,265.45 L730.47,265.30 L731.67,265.14 L732.87,264.97 L734.07,264.80 L735.27,264.63 L736.47,264.45 L737.68,264.26 L738.88,264.07 L740.08,263.88 L741.28,263.68 L742.47,263.47 L743.67,263.26 L744.87,263.04 L746.07,262.82 L747.27,262.60 L748.47,262.36 L749.67,262.13 L750.87,261.88 L752.07,261.64 L753.27,261.38 L754.47,261.12 L755.67,260.86 L756.87,260.59 L758.06,260.31 L759.26,260.03 L760.46,259.74 L761.66,259.44 L762.86,259.14 L764.05,258.83 L765.24,258.51 L766.43,258.19 L767.62,257.85 L768.80,257.50 L769.97,257.15 L771.14,256.78 L772.30,256.40 L773.45,256.00 L774.60,255.59 L775.73,255.17 L776.85,254.74 L777.97,254.28 L779.07,253.81 L780.16,253.33 L781.23,252.83 L782.29,252.31 L783.34,251.77 L784.37,251.21 L785.39,250.63 L786.39,250.03 L787.37,249.40 L788.33,248.76 L789.27,248.09 L790.19,247.40 L791.09,246.69 L791.97,245.95 L792.83,245.18 L793.66,244.39 L794.47,243.57 L795.26,242.73 L796.02,241.85 L796.75,240.95 L797.46,240.02 L798.15,239.07 L798.81,238.09 L799.46,237.09 L800.08,236.07 L800.68,235.03 L801.26,233.97 L801.82,232.89 L802.37,231.80 L802.90,230.70 L803.41,229.58 L803.91,228.45 L804.40,227.31 L804.87,226.16 L805.33,225.01 L805.79,223.85 L806.23,222.69 L806.66,221.52 L807.08,220.35 L807.50,219.19 L807.91,218.02 L808.31,216.85 L808.70,215.68 L809.09,214.51 L809.47,213.34 L809.85,212.17 L810.22,211.00 L810.58,209.82 L810.94,208.65 L811.29,207.48 L811.64,206.31 L811.98,205.13 L812.32,203.96 L812.65,202.79 L812.98,201.61 L813.30,200.44 L813.62,199.27 L813.94,198.09 L814.25,196.92 L814.56,195.75 L814.87,194.58 L815.17,193.40 L815.47,192.23 L815.77,191.06 L816.06,189.88 L816.36,188.71 L816.65,187.54 L816.94,186.37 L817.23,185.20 L817.51,184.03 L817.80,182.86 L818.09,181.69 L818.37,180.52 L818.66,179.35 L818.94,178.18 L819.22,177.01 L819.51,175.85 L819.80,174.68 L820.08,173.51 L820.37,172.35 L820.66,171.19 L820.95,170.02 L821.24,168.86 L821.53,167.70 L821.82,166.54 L822.12,165.38 L822.42,164.22 L822.72,163.06 L823.03,161.91 L823.33,160.75 L823.64,159.60 L823.96,158.45 L824.28,157.29 L824.60,156.14 L824.93,154.99 L825.26,153.85 L825.59,152.70 L825.93,151.55 L826.27,150.41 L826.62,149.27 L826.98,148.13 L827.34,146.99 L827.70,145.85 L828.07,144.71 L828.43,143.57 L828.80,142.43 L829.17,141.30 L829.55,140.16 L829.92,139.02 L830.29,137.88 L830.66,136.74 L831.03,135.59 L831.39,134.45 L831.76,133.30 L832.11,132.15 L832.47,131.00 L832.82,129.85 L833.16,128.69 L833.50,127.53 L833.84,126.37 L834.17,125.20 L834.50,124.04 L834.82,122.87 L835.14,121.70 L835.46,120.52 L835.78,119.35 L836.09,118.17 L836.40,117.00 L836.70,115.82 L837.01,114.64 L837.32,113.46 L837.62,112.28 L837.92,111.10 L838.23,109.91 L838.53,108.73 L838.83,107.55 L839.13,106.36 L839.44,105.18 L839.74,104.00 L840.05,102.82 L840.35,101.63 L840.66,100.45 L840.97,99.27 L841.29,98.09 L841.60,96.92 L841.92,95.74 L842.24,94.56 L842.57,93.39 L842.90,92.22 L843.23,91.04 L843.57,89.88 L843.91,88.71 L844.26,87.54 L844.61,86.38 L844.97,85.22 L845.33,84.06 L845.70,82.91 L846.08,81.76 L846.46,80.61 L846.86,79.47 L847.25,78.32 L847.66,77.19 L848.07,76.05 L848.49,74.92 L848.92,73.79 L849.36,72.67 L849.81,71.55 L850.26,70.44 L850.73,69.33 L851.21,68.22 L851.69,67.12 L852.19,66.03 L852.70,64.94 L853.22,63.86 L853.74,62.78 L854.29,61.70 L854.84,60.63 L855.40,59.57 L855.98,58.52 L856.57,57.47 L857.18,56.42 L857.79,55.38 L858.42,54.35 L859.07,53.33 L859.72,52.31 L860.40,51.30 L861.08,50.30 L861.78,49.31 L862.49,48.33 L863.22,47.36 L863.95,46.40 L864.71,45.46 L865.47,44.52 L866.25,43.60 L867.04,42.69 L867.85,41.79 L868.66,40.91 L869.49,40.04 L870.34,39.19 L871.20,38.35 L872.06,37.53 L872.95,36.73 L873.84,35.94 L874.75,35.18 L875.67,34.43 L876.60,33.70 L877.55,32.99 L878.51,32.31 L879.48,31.64 L880.46,30.99 L881.46,30.37 L882.47,29.77 L883.49,29.20 L884.52,28.64 L885.57,28.11 L886.63,27.61 L887.70,27.13 L888.78,26.68 L889.87,26.26 L890.98,25.86 L892.10,25.49 L893.23,25.15 L894.37,24.84 L895.52,24.55 L896.69,24.30 L897.87,24.08 L899.06,23.89 L900.26,23.73 L901.47,23.60 L902.69,23.51 L903.93,23.45 L905.18,23.42 L906.43,23.43 L907.70,23.48 L908.99,23.56 L910.28,23.67 L911.58,23.82 L912.90,24.02 L914.22,24.24 L915.56,24.51 L916.91,24.82" fill="none" stroke="#008000" stroke-width="2.5" stroke-linejoin="round" stroke-linecap="round"/>
</g>
<rect x="588.30" y="22.30" width="328.30" height="264.40" fill="none" stroke="#000" stroke-width="2.5"/>
<line x1="583.30" y1="286.52" x2="588.30" y2="286.52" stroke="#000" stroke-width="2.5" />
<line x1="583.30" y1="244.55" x2="588.30" y2="244.55" stroke="#000" stroke-width="2.5" />
<line x1="583.30" y1="202.58" x2="588.30" y2="202.58" stroke="#000" stroke-width="2.5" />
<line x1="583.30" y1="160.61" x2="588.30" y2="160.61" stroke="#000" stroke-width="2.5" />
<line x1="583.30" y1="118.64" x2="588.30" y2="118.64" stroke="#000" stroke-width="2.5" />
<line x1="583.30" y1="76.67" x2="588.30" y2="76.67" stroke="#000" stroke-width="2.5" />
<line x1="583.30" y1="34.70" x2="588.30" y2="34.70" stroke="#000" stroke-width="2.5" />
<line x1="585.30" y1="265.53" x2="588.30" y2="265.53" stroke="#000" stroke-width="2.5" />
<line x1="585.30" y1="223.56" x2="588.30" y2="223.56" stroke="#000" stroke-width="2.5" />
<line x1="585.30" y1="181.59" x2="588.30" y2="181.59" stroke="#000" stroke-width="2.5" />
<line x1="585.30" y1="139.62" x2="588.30" y2="139.62" stroke="#000" stroke-width="2.5" />
<line x1="585.30" y1="97.66" x2="588.30" y2="97.66" stroke="#000" stroke-width="2.5" />
<line x1="585.30" y1="55.69" x2="588.30" y2="55.69" stroke="#000" stroke-width="2.5" />
<text x="580.00" y="291.32" font-size="16" text-anchor="end" >-6</text>
<text x="580.00" y="249.35" font-size="16" text-anchor="end" >-5</text>
<text x="580.00" y="207.38" font-size="16" text-anchor="end" >-4</text>
<text x="580.00" y="165.41" font-size="16" text-anchor="end" >-3</text>
<text x="580.00" y="123.44" font-size="16" text-anchor="end" >-2</text>
<text x="580.00" y="81.47" font-size="16" text-anchor="end" >-1</text>
<text x="580.00" y="39.50" font-size="16" text-anchor="end" >0</text>
<line x1="588.30" y1="286.70" x2="588.30" y2="291.70" stroke="#000" stroke-width="2.5" />
<line x1="661.24" y1="286.70" x2="661.24" y2="291.70" stroke="#000" stroke-width="2.5" />
<line x1="734.18" y1="286.70" x2="734.18" y2="291.70" stroke="#000" stroke-width="2.5" />
<line x1="807.12" y1="286.70" x2="807.12" y2="291.70" stroke="#000" stroke-width="2.5" />
<line x1="880.06" y1="286.70" x2="880.06" y2="291.70" stroke="#000" stroke-width="2.5" />
<line x1="624.77" y1="286.70" x2="624.77" y2="289.70" stroke="#000" stroke-width="2.5" />
<line x1="697.71" y1="286.70" x2="697.71" y2="289.70" stroke="#000" stroke-width="2.5" />
<line x1="770.65" y1="286.70" x2="770.65" y2="289.70" stroke="#000" stroke-width="2.5" />
<line x1="843.59" y1="286.70" x2="843.59" y2="289.70" stroke="#000" stroke-width="2.5" />
<line x1="916.53" y1="286.70" x2="916.53" y2="289.70" stroke="#000" stroke-width="2.5" />
<text x="588.30" y="308.00" font-size="16" text-anchor="middle" >0.2</text>
<text x="661.24" y="308.00" font-size="16" text-anchor="middle" >0.4</text>
<text x="734.18" y="308.00" font-size="16" text-anchor="middle" >0.6</text>
<text x="807.12" y="308.00" font-size="16" text-anchor="middle" >0.8</text>
<text x="880.06" y="308.00" font-size="16" text-anchor="middle" >1.0</text>
<text x="667.90" y="338.50" font-size="24" text-anchor="start" >E (V vs.RHE)</text>
<text transform="translate(541.00,222.50) rotate(-90)" font-size="24">J (mA.cm<tspan font-size="15" dy="-10.5">-2</tspan><tspan dy="10.5">)</tspan></text>
<line x1="616.20" y1="52.10" x2="648.60" y2="52.10" stroke="#FF00FF" stroke-width="2.5" />
<line x1="616.20" y1="72.50" x2="648.60" y2="72.50" stroke="#FF0000" stroke-width="2.5" />
<line x1="616.20" y1="93.00" x2="648.60" y2="93.00" stroke="#0000FF" stroke-width="2.5" />
<line x1="616.20" y1="113.20" x2="648.60" y2="113.20" stroke="#008000" stroke-width="2.5" />
<text x="651.60" y="57.20" font-size="16.2" text-anchor="start" >Fe-Pd UPM</text>
<text x="651.60" y="77.30" font-size="16.2" text-anchor="start" >Pd metallene</text>
<text x="651.60" y="97.30" font-size="16.2" text-anchor="start" >Pd/C</text>
<text x="651.60" y="117.40" font-size="16.2" text-anchor="start" >Pt/C</text>
<rect x="114.50" y="445.60" width="24.80" height="199.80" fill="#FF00FF"/>
<rect x="150.00" y="456.70" width="24.20" height="188.70" fill="#FF0000"/>
<rect x="185.30" y="462.50" width="24.30" height="182.90" fill="#0000FF"/>
<rect x="220.80" y="458.80" width="24.60" height="186.60" fill="#008000"/>
<rect x="277.20" y="430.80" width="23.90" height="214.60" fill="#FF00FF"/>
<rect x="312.70" y="557.90" width="24.20" height="87.50" fill="#FF0000"/>
<rect x="348.00" y="576.70" width="24.30" height="68.70" fill="#0000FF"/>
<rect x="383.30" y="493.40" width="24.50" height="152.00" fill="#008000"/>
<line x1="260.10" y1="430.50" x2="260.10" y2="645.00" stroke="#333" stroke-width="1.8" stroke-dasharray="5.2,4.8" stroke-dashoffset="3.6"/>
<rect x="98.70" y="383.90" width="325.20" height="261.50" fill="none" stroke="#000" stroke-width="2.5"/>
<line x1="93.70" y1="645.40" x2="98.70" y2="645.40" stroke="#000" stroke-width="2.5" />
<line x1="93.70" y1="601.82" x2="98.70" y2="601.82" stroke="#000" stroke-width="2.5" />
<line x1="93.70" y1="558.23" x2="98.70" y2="558.23" stroke="#000" stroke-width="2.5" />
<line x1="93.70" y1="514.65" x2="98.70" y2="514.65" stroke="#000" stroke-width="2.5" />
<line x1="93.70" y1="471.07" x2="98.70" y2="471.07" stroke="#000" stroke-width="2.5" />
<line x1="93.70" y1="427.48" x2="98.70" y2="427.48" stroke="#000" stroke-width="2.5" />
<line x1="93.70" y1="383.90" x2="98.70" y2="383.90" stroke="#000" stroke-width="2.5" />
<line x1="95.70" y1="623.61" x2="98.70" y2="623.61" stroke="#000" stroke-width="2.5" />
<line x1="95.70" y1="580.02" x2="98.70" y2="580.02" stroke="#000" stroke-width="2.5" />
<line x1="95.70" y1="536.44" x2="98.70" y2="536.44" stroke="#000" stroke-width="2.5" />
<line x1="95.70" y1="492.86" x2="98.70" y2="492.86" stroke="#000" stroke-width="2.5" />
<line x1="95.70" y1="449.27" x2="98.70" y2="449.27" stroke="#000" stroke-width="2.5" />
<line x1="95.70" y1="405.69" x2="98.70" y2="405.69" stroke="#000" stroke-width="2.5" />
<text x="90.00" y="650.20" font-size="16" text-anchor="end" >0.0</text>
<text x="90.00" y="606.62" font-size="16" text-anchor="end" >0.2</text>
<text x="90.00" y="563.03" font-size="16" text-anchor="end" >0.4</text>
<text x="90.00" y="519.45" font-size="16" text-anchor="end" >0.6</text>
<text x="90.00" y="475.87" font-size="16" text-anchor="end" >0.8</text>
<text x="90.00" y="432.28" font-size="16" text-anchor="end" >1.0</text>
<text x="90.00" y="388.70" font-size="16" text-anchor="end" >1.2</text>
<line x1="423.90" y1="645.40" x2="428.90" y2="645.40" stroke="#000" stroke-width="2.5" />
<line x1="423.90" y1="593.10" x2="428.90" y2="593.10" stroke="#000" stroke-width="2.5" />
<line x1="423.90" y1="540.80" x2="428.90" y2="540.80" stroke="#000" stroke-width="2.5" />
<line x1="423.90" y1="488.50" x2="428.90" y2="488.50" stroke="#000" stroke-width="2.5" />
<line x1="423.90" y1="436.20" x2="428.90" y2="436.20" stroke="#000" stroke-width="2.5" />
<line x1="423.90" y1="383.90" x2="428.90" y2="383.90" stroke="#000" stroke-width="2.5" />
<line x1="423.90" y1="619.25" x2="426.90" y2="619.25" stroke="#000" stroke-width="2.5" />
<line x1="423.90" y1="566.95" x2="426.90" y2="566.95" stroke="#000" stroke-width="2.5" />
<line x1="423.90" y1="514.65" x2="426.90" y2="514.65" stroke="#000" stroke-width="2.5" />
<line x1="423.90" y1="462.35" x2="426.90" y2="462.35" stroke="#000" stroke-width="2.5" />
<line x1="423.90" y1="410.05" x2="426.90" y2="410.05" stroke="#000" stroke-width="2.5" />
<text x="432.30" y="650.20" font-size="16.5" text-anchor="start" >0</text>
<text x="432.30" y="597.90" font-size="16.5" text-anchor="start" >20</text>
<text x="432.30" y="545.60" font-size="16.5" text-anchor="start" >40</text>
<text x="432.30" y="493.30" font-size="16.5" text-anchor="start" >60</text>
<text x="432.30" y="441.00" font-size="16.5" text-anchor="start" >80</text>
<text x="432.30" y="388.70" font-size="16.5" text-anchor="start" >100</text>
<rect x="116.80" y="388.00" width="30.90" height="15.10" fill="#FF00FF"/>
<rect x="116.80" y="408.30" width="30.90" height="15.10" fill="#0000FF"/>
<rect x="272.50" y="388.00" width="30.90" height="15.10" fill="#FF0000"/>
<rect x="272.50" y="408.30" width="30.90" height="15.10" fill="#008000"/>
<text x="151.90" y="400.10" font-size="16.2" text-anchor="start" >Fe-Pd UPM</text>
<text x="151.90" y="420.40" font-size="16.2" text-anchor="start" >Pd/C</text>
<text x="307.20" y="400.10" font-size="16.2" text-anchor="start" >Pd metallene</text>
<text x="307.20" y="420.40" font-size="16.2" text-anchor="start" >Pt/C</text>
<text transform="translate(51.80,587.00) rotate(-90)" font-size="24">E (V vs.RHE)</text>
<text transform="translate(482.00,620.30) rotate(-90)" font-size="24">ECSA (m<tspan font-size="15" dy="-9.5">-2</tspan><tspan dy="9.5"> g</tspan><tspan font-size="15" dy="-9.5">-1</tspan><tspan font-size="14.5" dy="14.5"> Pd or Pt</tspan><tspan dy="-5">)</tspan></text>
<rect x="605.00" y="516.60" width="24.60" height="128.80" fill="#FF00FF"/>
<rect x="640.70" y="624.30" width="24.40" height="21.10" fill="#FF4040"/>
<rect x="676.20" y="630.20" width="24.40" height="15.20" fill="#0000FF"/>
<rect x="711.70" y="624.60" width="24.60" height="20.80" fill="#008000"/>
<rect x="767.90" y="469.40" width="23.90" height="176.00" fill="#FF00FF"/>
<rect x="803.40" y="582.00" width="24.60" height="63.40" fill="#FF0000"/>
<rect x="839.10" y="604.70" width="24.10" height="40.70" fill="#0000FF"/>
<rect x="874.60" y="585.10" width="24.40" height="60.30" fill="#008000"/>
<rect x="766.00" y="511.70" width="28.00" height="5.10" fill="#fff"/>
<line x1="751.00" y1="493.70" x2="751.00" y2="642.00" stroke="#444" stroke-width="1.8" stroke-dasharray="5.2,4.8"/>
<rect x="589.60" y="383.90" width="325.30" height="261.50" fill="none" stroke="#000" stroke-width="2.5"/>
<line x1="584.60" y1="645.40" x2="589.60" y2="645.40" stroke="#000" stroke-width="2.5" />
<line x1="584.60" y1="593.10" x2="589.60" y2="593.10" stroke="#000" stroke-width="2.5" />
<line x1="584.60" y1="540.80" x2="589.60" y2="540.80" stroke="#000" stroke-width="2.5" />
<line x1="584.60" y1="488.50" x2="589.60" y2="488.50" stroke="#000" stroke-width="2.5" />
<line x1="584.60" y1="436.20" x2="589.60" y2="436.20" stroke="#000" stroke-width="2.5" />
<line x1="584.60" y1="383.90" x2="589.60" y2="383.90" stroke="#000" stroke-width="2.5" />
<line x1="586.60" y1="619.25" x2="589.60" y2="619.25" stroke="#000" stroke-width="2.5" />
<line x1="586.60" y1="566.95" x2="589.60" y2="566.95" stroke="#000" stroke-width="2.5" />
<line x1="586.60" y1="514.65" x2="589.60" y2="514.65" stroke="#000" stroke-width="2.5" />
<line x1="586.60" y1="462.35" x2="589.60" y2="462.35" stroke="#000" stroke-width="2.5" />
<line x1="586.60" y1="410.05" x2="589.60" y2="410.05" stroke="#000" stroke-width="2.5" />
<text x="580.00" y="650.20" font-size="16" text-anchor="end" >0.0</text>
<text x="580.00" y="597.90" font-size="16" text-anchor="end" >0.3</text>
<text x="580.00" y="545.60" font-size="16" text-anchor="end" >0.6</text>
<text x="580.00" y="493.30" font-size="16" text-anchor="end" >0.9</text>
<text x="580.00" y="441.00" font-size="16" text-anchor="end" >1.2</text>
<text x="580.00" y="388.70" font-size="16" text-anchor="end" >1.5</text>
<line x1="914.90" y1="645.40" x2="919.90" y2="645.40" stroke="#000" stroke-width="2.5" />
<text x="923.60" y="650.20" font-size="16" text-anchor="start" >0.0</text>
<line x1="914.90" y1="586.60" x2="919.90" y2="586.60" stroke="#000" stroke-width="2.5" />
<text x="923.60" y="591.40" font-size="16" text-anchor="start" >0.4</text>
<line x1="914.90" y1="527.80" x2="919.90" y2="527.80" stroke="#000" stroke-width="2.5" />
<text x="923.60" y="532.60" font-size="16" text-anchor="start" >0.8</text>
<line x1="914.90" y1="616.00" x2="917.90" y2="616.00" stroke="#000" stroke-width="2.5" />
<line x1="914.90" y1="557.20" x2="917.90" y2="557.20" stroke="#000" stroke-width="2.5" />
<line x1="914.90" y1="486.40" x2="919.90" y2="486.40" stroke="#000" stroke-width="2.5" />
<text x="923.60" y="491.20" font-size="16" text-anchor="start" >2.8</text>
<line x1="914.90" y1="427.40" x2="919.90" y2="427.40" stroke="#000" stroke-width="2.5" />
<text x="923.60" y="432.20" font-size="16" text-anchor="start" >3.2</text>
<line x1="914.90" y1="456.90" x2="917.90" y2="456.90" stroke="#000" stroke-width="2.5" />
<line x1="914.90" y1="397.90" x2="917.90" y2="397.90" stroke="#000" stroke-width="2.5" />
<polygon points="908.5,516.2 921,510.4 921,515.2 908.5,521" fill="#fff"/>
<line x1="909.30" y1="515.20" x2="920.30" y2="510.10" stroke="#000" stroke-width="2.1" />
<line x1="909.30" y1="520.10" x2="920.30" y2="515.00" stroke="#000" stroke-width="2.1" />
<rect x="607.90" y="388.00" width="30.50" height="15.00" fill="#FF00FF"/>
<rect x="607.90" y="408.40" width="30.50" height="15.00" fill="#0000FF"/>
<rect x="754.70" y="388.00" width="30.50" height="15.00" fill="#FF4040"/>
<rect x="754.70" y="408.40" width="30.50" height="15.00" fill="#008000"/>
<text x="641.90" y="400.10" font-size="16.2" text-anchor="start" >Fe-Pd UPM</text>
<text x="641.90" y="419.90" font-size="16.2" text-anchor="start" >Pd/C</text>
<text x="789.00" y="400.10" font-size="16.2" text-anchor="start" >Pd metallene</text>
<text x="789.00" y="419.90" font-size="16.2" text-anchor="start" >Pt/C</text>
<text x="603.60" y="456.50" font-size="16.2" text-anchor="start" >@ 0.9 V vs.RHE</text>
<text x="767.50" y="456.50" font-size="16.2" text-anchor="start" >@ 0.85 V vs.RHE</text>
<text transform="translate(543.70,596.50) rotate(-90)" font-size="24">J (A mg<tspan font-size="15" dy="-9.5">-1</tspan><tspan font-size="14.5" dy="14.5"> Pd or Pt</tspan><tspan dy="-5">)</tspan></text>
<text transform="translate(978.30,596.50) rotate(-90)" font-size="24">J (A mg<tspan font-size="15" dy="-9.5">-1</tspan><tspan font-size="14.5" dy="14.5"> Pd or Pt</tspan><tspan dy="-5">)</tspan></text>
<clipPath id="ce"><rect x="99" y="746.3" width="327" height="263.4000000000001"/></clipPath>
<g clip-path="url(#ce)">
<path d="M99.10,993.51 L100.33,993.52 L101.57,993.52 L102.80,993.49 L104.03,993.45 L105.27,993.38 L106.50,993.30 L107.73,993.21 L108.96,993.10 L110.20,992.99 L111.43,992.86 L112.66,992.73 L113.89,992.58 L115.12,992.44 L116.35,992.29 L117.58,992.14 L118.81,991.99 L120.04,991.84 L121.27,991.69 L122.50,991.55 L123.73,991.41 L124.96,991.29 L126.19,991.17 L127.42,991.06 L128.65,990.96 L129.88,990.88 L131.11,990.82 L132.34,990.77 L133.57,990.74 L134.80,990.73 L136.03,990.74 L137.26,990.77 L138.49,990.83 L139.72,990.90 L140.95,991.00 L142.18,991.11 L143.41,991.24 L144.64,991.38 L145.87,991.52 L147.10,991.68 L148.33,991.85 L149.56,992.02 L150.79,992.19 L152.02,992.37 L153.25,992.54 L154.48,992.71 L155.72,992.88 L156.95,993.05 L158.18,993.20 L159.41,993.35 L160.64,993.49 L161.87,993.62 L163.10,993.75 L164.33,993.87 L165.57,993.98 L166.80,994.09 L168.03,994.19 L169.26,994.28 L170.49,994.37 L171.72,994.45 L172.96,994.53 L174.19,994.59 L175.42,994.66 L176.65,994.71 L177.88,994.77 L179.12,994.81 L180.35,994.85 L181.58,994.89 L182.81,994.92 L184.05,994.94 L185.28,994.96 L186.51,994.98 L187.74,994.99 L188.98,994.99 L190.21,994.99 L191.44,994.99 L192.67,994.98 L193.91,994.97 L195.14,994.95 L196.37,994.93 L197.60,994.91 L198.84,994.88 L200.07,994.85 L201.30,994.81 L202.54,994.78 L203.77,994.73 L205.00,994.69 L206.23,994.64 L207.47,994.59 L208.70,994.53 L209.93,994.48 L211.17,994.42 L212.40,994.36 L213.63,994.29 L214.86,994.22 L216.10,994.15 L217.33,994.08 L218.56,994.01 L219.80,993.93 L221.03,993.86 L222.26,993.78 L223.49,993.70 L224.73,993.61 L225.96,993.53 L227.19,993.45 L228.43,993.36 L229.66,993.27 L230.89,993.19 L232.12,993.10 L233.36,993.01 L234.59,992.92 L235.82,992.83 L237.05,992.74 L238.29,992.65 L239.52,992.56 L240.75,992.47 L241.98,992.38 L243.22,992.28 L244.45,992.19 L245.68,992.10 L246.91,992.01 L248.14,991.93 L249.38,991.84 L250.61,991.75 L251.84,991.66 L253.07,991.58 L254.30,991.49 L255.53,991.40 L256.77,991.32 L258.00,991.23 L259.23,991.14 L260.46,991.05 L261.69,990.96 L262.92,990.86 L264.15,990.77 L265.38,990.67 L266.61,990.57 L267.84,990.46 L269.07,990.36 L270.30,990.24 L271.52,990.13 L272.75,990.01 L273.98,989.89 L275.21,989.76 L276.43,989.62 L277.66,989.48 L278.88,989.34 L280.11,989.19 L281.33,989.03 L282.56,988.87 L283.78,988.70 L285.00,988.53 L286.23,988.34 L287.45,988.15 L288.67,987.95 L289.89,987.75 L291.11,987.53 L292.33,987.31 L293.55,987.08 L294.76,986.83 L295.98,986.58 L297.20,986.32 L298.41,986.05 L299.62,985.77 L300.84,985.48 L302.05,985.18 L303.26,984.86 L304.47,984.54 L305.68,984.20 L306.89,983.85 L308.08,983.48 L309.27,983.09 L310.45,982.68 L311.61,982.24 L312.76,981.78 L313.89,981.30 L315.00,980.78 L316.08,980.24 L317.15,979.66 L318.19,979.04 L319.20,978.39 L320.18,977.71 L321.13,976.98 L322.06,976.23 L322.96,975.44 L323.84,974.62 L324.69,973.77 L325.52,972.89 L326.33,971.99 L327.11,971.06 L327.87,970.10 L328.60,969.13 L329.32,968.13 L330.02,967.11 L330.69,966.07 L331.35,965.01 L331.99,963.94 L332.61,962.85 L333.22,961.74 L333.81,960.63 L334.38,959.50 L334.94,958.36 L335.48,957.22 L336.01,956.06 L336.52,954.90 L337.03,953.74 L337.52,952.57 L338.00,951.40 L338.47,950.23 L338.93,949.06 L339.38,947.88 L339.82,946.71 L340.25,945.53 L340.67,944.35 L341.08,943.17 L341.48,941.99 L341.87,940.81 L342.26,939.63 L342.63,938.45 L343.00,937.26 L343.36,936.08 L343.72,934.89 L344.07,933.70 L344.41,932.52 L344.74,931.33 L345.07,930.14 L345.39,928.95 L345.70,927.76 L346.01,926.57 L346.32,925.37 L346.62,924.18 L346.91,922.99 L347.20,921.79 L347.49,920.60 L347.77,919.40 L348.05,918.21 L348.32,917.01 L348.60,915.81 L348.86,914.62 L349.13,913.42 L349.40,912.22 L349.66,911.02 L349.92,909.82 L350.17,908.62 L350.43,907.43 L350.69,906.23 L350.94,905.03 L351.20,903.83 L351.45,902.63 L351.70,901.43 L351.96,900.23 L352.21,899.03 L352.47,897.83 L352.73,896.63 L352.98,895.43 L353.24,894.23 L353.50,893.03 L353.77,891.83 L354.03,890.63 L354.30,889.43 L354.57,888.23 L354.83,887.03 L355.11,885.83 L355.38,884.63 L355.65,883.43 L355.92,882.23 L356.20,881.03 L356.47,879.83 L356.75,878.63 L357.02,877.43 L357.30,876.23 L357.57,875.03 L357.84,873.82 L358.12,872.62 L358.39,871.42 L358.66,870.21 L358.93,869.01 L359.19,867.80 L359.46,866.60 L359.72,865.39 L359.98,864.18 L360.24,862.97 L360.50,861.76 L360.76,860.55 L361.01,859.34 L361.26,858.13 L361.50,856.91 L361.74,855.70 L361.98,854.48 L362.21,853.26 L362.45,852.04 L362.67,850.82 L362.90,849.60 L363.12,848.38 L363.33,847.16 L363.55,845.93 L363.76,844.71 L363.97,843.48 L364.18,842.25 L364.38,841.03 L364.59,839.80 L364.79,838.57 L364.99,837.34 L365.20,836.12 L365.40,834.89 L365.60,833.66 L365.80,832.43 L366.00,831.20 L366.20,829.97 L366.40,828.75 L366.61,827.52 L366.81,826.29 L367.02,825.06 L367.22,823.84 L367.43,822.61 L367.65,821.39 L367.86,820.16 L368.08,818.94 L368.30,817.72 L368.52,816.50 L368.75,815.28 L368.98,814.06 L369.21,812.84 L369.45,811.63 L369.69,810.41 L369.94,809.20 L370.19,807.99 L370.45,806.78 L370.71,805.57 L370.98,804.37 L371.25,803.16 L371.53,801.96 L371.81,800.76 L372.11,799.56 L372.41,798.37 L372.71,797.18 L373.03,795.99 L373.35,794.80 L373.68,793.61 L374.02,792.43 L374.36,791.25 L374.72,790.07 L375.08,788.90 L375.45,787.73 L375.83,786.56 L376.22,785.40 L376.62,784.24 L377.03,783.08 L377.45,781.92 L377.88,780.77 L378.33,779.63 L378.78,778.48 L379.24,777.34 L379.72,776.21 L380.21,775.07 L380.71,773.95 L381.22,772.82 L381.74,771.70 L382.28,770.59 L382.84,769.49 L383.41,768.40 L384.01,767.33 L384.63,766.28 L385.28,765.25 L385.95,764.25 L386.65,763.28 L387.39,762.34 L388.16,761.43 L388.96,760.56 L389.81,759.73 L390.70,758.95 L391.62,758.21 L392.60,757.53 L393.62,756.89 L394.68,756.31 L395.79,755.78 L396.94,755.30 L398.12,754.87 L399.33,754.49 L400.56,754.14 L401.82,753.84 L403.09,753.57 L404.37,753.35 L405.67,753.15 L406.97,752.99 L408.28,752.85 L409.59,752.73 L410.89,752.64 L412.20,752.56 L413.49,752.50 L414.78,752.45 L416.06,752.40 L417.32,752.37 L418.56,752.33 L419.78,752.30 L420.98,752.26 L422.15,752.21 L423.29,752.16 L424.40,752.09 L425.47,752.00" fill="none" stroke="#0000FF" stroke-width="2.5" stroke-linejoin="round" stroke-linecap="round"/>
<path d="M99.10,994.62 L100.34,994.62 L101.58,994.60 L102.82,994.57 L104.05,994.51 L105.29,994.44 L106.53,994.35 L107.77,994.26 L109.00,994.15 L110.24,994.03 L111.47,993.90 L112.71,993.77 L113.95,993.63 L115.18,993.48 L116.42,993.34 L117.65,993.19 L118.88,993.05 L120.12,992.90 L121.35,992.76 L122.59,992.63 L123.82,992.50 L125.06,992.38 L126.29,992.26 L127.52,992.16 L128.76,992.07 L129.99,992.00 L131.23,991.94 L132.46,991.90 L133.69,991.87 L134.93,991.87 L136.16,991.89 L137.40,991.93 L138.63,991.99 L139.87,992.06 L141.10,992.16 L142.34,992.27 L143.57,992.40 L144.81,992.54 L146.04,992.68 L147.28,992.84 L148.51,993.00 L149.75,993.17 L150.99,993.34 L152.22,993.51 L153.46,993.68 L154.69,993.85 L155.93,994.02 L157.17,994.17 L158.40,994.32 L159.64,994.47 L160.87,994.61 L162.11,994.74 L163.35,994.86 L164.58,994.98 L165.82,995.08 L167.05,995.19 L168.29,995.29 L169.53,995.38 L170.76,995.46 L172.00,995.54 L173.24,995.61 L174.47,995.68 L175.71,995.74 L176.95,995.80 L178.18,995.85 L179.42,995.89 L180.66,995.93 L181.89,995.96 L183.13,995.99 L184.36,996.02 L185.60,996.04 L186.84,996.05 L188.07,996.06 L189.31,996.06 L190.55,996.06 L191.78,996.06 L193.02,996.05 L194.26,996.04 L195.49,996.02 L196.73,996.00 L197.97,995.98 L199.20,995.95 L200.44,995.92 L201.68,995.89 L202.92,995.85 L204.15,995.81 L205.39,995.76 L206.63,995.71 L207.86,995.66 L209.10,995.61 L210.34,995.55 L211.57,995.49 L212.81,995.43 L214.05,995.37 L215.28,995.30 L216.52,995.23 L217.76,995.16 L219.00,995.09 L220.23,995.01 L221.47,994.94 L222.71,994.86 L223.94,994.78 L225.18,994.70 L226.42,994.61 L227.65,994.53 L228.89,994.45 L230.13,994.36 L231.37,994.27 L232.60,994.18 L233.84,994.09 L235.08,994.00 L236.32,993.91 L237.55,993.82 L238.79,993.73 L240.03,993.64 L241.26,993.55 L242.50,993.46 L243.74,993.37 L244.98,993.28 L246.21,993.19 L247.45,993.09 L248.69,993.00 L249.92,992.92 L251.16,992.83 L252.40,992.74 L253.64,992.65 L254.87,992.56 L256.11,992.47 L257.35,992.38 L258.58,992.29 L259.82,992.20 L261.06,992.10 L262.29,992.01 L263.53,991.91 L264.76,991.81 L266.00,991.70 L267.24,991.60 L268.47,991.49 L269.70,991.37 L270.94,991.26 L272.17,991.14 L273.40,991.01 L274.64,990.88 L275.87,990.74 L277.10,990.60 L278.33,990.46 L279.56,990.31 L280.79,990.15 L282.02,989.98 L283.24,989.81 L284.47,989.64 L285.70,989.45 L286.92,989.26 L288.15,989.06 L289.37,988.85 L290.60,988.64 L291.82,988.41 L293.04,988.18 L294.26,987.94 L295.48,987.69 L296.70,987.43 L297.92,987.16 L299.13,986.87 L300.35,986.58 L301.56,986.28 L302.78,985.97 L303.99,985.64 L305.20,985.31 L306.41,984.96 L307.61,984.60 L308.81,984.22 L310.00,983.82 L311.18,983.40 L312.34,982.96 L313.49,982.49 L314.63,982.00 L315.74,981.48 L316.83,980.93 L317.90,980.35 L318.95,979.73 L319.97,979.08 L320.96,978.40 L321.92,977.67 L322.86,976.92 L323.77,976.13 L324.65,975.31 L325.51,974.47 L326.35,973.59 L327.16,972.69 L327.95,971.76 L328.72,970.81 L329.47,969.84 L330.19,968.84 L330.90,967.82 L331.59,966.78 L332.25,965.73 L332.90,964.66 L333.53,963.57 L334.14,962.47 L334.74,961.36 L335.32,960.23 L335.88,959.10 L336.43,957.95 L336.97,956.80 L337.49,955.64 L338.00,954.48 L338.50,953.31 L338.98,952.14 L339.46,950.97 L339.92,949.79 L340.37,948.62 L340.81,947.44 L341.25,946.26 L341.67,945.08 L342.08,943.90 L342.48,942.71 L342.88,941.53 L343.26,940.34 L343.64,939.15 L344.01,937.96 L344.37,936.77 L344.72,935.58 L345.07,934.39 L345.41,933.20 L345.74,932.00 L346.07,930.81 L346.39,929.61 L346.70,928.41 L347.01,927.21 L347.31,926.01 L347.61,924.81 L347.90,923.61 L348.19,922.41 L348.48,921.21 L348.76,920.01 L349.03,918.80 L349.31,917.60 L349.58,916.40 L349.84,915.19 L350.11,913.99 L350.37,912.78 L350.63,911.58 L350.89,910.37 L351.15,909.17 L351.40,907.96 L351.66,906.75 L351.91,905.55 L352.17,904.34 L352.42,903.13 L352.67,901.93 L352.93,900.72 L353.18,899.52 L353.44,898.31 L353.70,897.11 L353.96,895.90 L354.22,894.70 L354.48,893.49 L354.75,892.29 L355.02,891.08 L355.29,889.88 L355.56,888.68 L355.84,887.48 L356.11,886.27 L356.39,885.07 L356.67,883.87 L356.95,882.67 L357.23,881.46 L357.51,880.26 L357.79,879.06 L358.07,877.86 L358.35,876.65 L358.63,875.45 L358.91,874.25 L359.19,873.04 L359.47,871.84 L359.74,870.63 L360.02,869.42 L360.29,868.22 L360.56,867.01 L360.83,865.80 L361.09,864.59 L361.36,863.38 L361.62,862.16 L361.88,860.95 L362.13,859.74 L362.38,858.52 L362.63,857.30 L362.87,856.09 L363.11,854.87 L363.34,853.64 L363.57,852.42 L363.80,851.20 L364.02,849.97 L364.24,848.74 L364.45,847.52 L364.66,846.29 L364.87,845.06 L365.08,843.83 L365.28,842.59 L365.48,841.36 L365.68,840.13 L365.88,838.89 L366.08,837.66 L366.27,836.43 L366.47,835.19 L366.66,833.96 L366.86,832.72 L367.05,831.49 L367.25,830.25 L367.45,829.02 L367.64,827.78 L367.84,826.55 L368.04,825.31 L368.24,824.08 L368.45,822.85 L368.65,821.62 L368.86,820.38 L369.07,819.15 L369.29,817.93 L369.50,816.70 L369.72,815.47 L369.95,814.24 L370.18,813.02 L370.41,811.80 L370.65,810.58 L370.90,809.36 L371.14,808.14 L371.40,806.92 L371.66,805.71 L371.93,804.50 L372.20,803.29 L372.48,802.08 L372.77,800.87 L373.06,799.67 L373.36,798.47 L373.67,797.27 L373.99,796.07 L374.31,794.88 L374.65,793.69 L374.99,792.50 L375.34,791.32 L375.70,790.14 L376.07,788.96 L376.45,787.79 L376.84,786.61 L377.24,785.45 L377.66,784.28 L378.08,783.12 L378.51,781.96 L378.96,780.81 L379.42,779.66 L379.89,778.52 L380.37,777.37 L380.87,776.24 L381.37,775.10 L381.89,773.97 L382.43,772.85 L382.98,771.73 L383.54,770.62 L384.12,769.52 L384.72,768.43 L385.34,767.36 L385.97,766.30 L386.63,765.26 L387.31,764.24 L388.01,763.25 L388.73,762.28 L389.48,761.33 L390.26,760.42 L391.06,759.54 L391.89,758.69 L392.75,757.87 L393.64,757.10 L394.56,756.36 L395.51,755.67 L396.50,755.02 L397.52,754.42 L398.58,753.86 L399.67,753.36 L400.81,752.91 L401.98,752.51 L403.19,752.17 L404.43,751.89 L405.71,751.65 L407.02,751.47 L408.35,751.32 L409.69,751.21 L411.05,751.14 L412.40,751.09 L413.76,751.06 L415.11,751.05 L416.45,751.05 L417.78,751.06 L419.08,751.07 L420.35,751.08 L421.59,751.08 L422.79,751.07 L423.94,751.04 L425.05,750.99 L426.10,750.92" fill="none" stroke="#FF0000" stroke-width="2.5" stroke-linejoin="round" stroke-linecap="round"/>
</g>
<rect x="99.00" y="746.30" width="327.00" height="263.40" fill="none" stroke="#000" stroke-width="2.5"/>
<line x1="94.00" y1="1009.70" x2="99.00" y2="1009.70" stroke="#000" stroke-width="2.5" />
<line x1="94.00" y1="925.90" x2="99.00" y2="925.90" stroke="#000" stroke-width="2.5" />
<line x1="94.00" y1="842.10" x2="99.00" y2="842.10" stroke="#000" stroke-width="2.5" />
<line x1="94.00" y1="758.30" x2="99.00" y2="758.30" stroke="#000" stroke-width="2.5" />
<line x1="96.00" y1="967.80" x2="99.00" y2="967.80" stroke="#000" stroke-width="2.5" />
<line x1="96.00" y1="884.00" x2="99.00" y2="884.00" stroke="#000" stroke-width="2.5" />
<line x1="96.00" y1="800.20" x2="99.00" y2="800.20" stroke="#000" stroke-width="2.5" />
<text x="90.00" y="1014.50" font-size="16" text-anchor="end" >-6</text>
<text x="90.00" y="930.70" font-size="16" text-anchor="end" >-4</text>
<text x="90.00" y="846.90" font-size="16" text-anchor="end" >-2</text>
<text x="90.00" y="763.10" font-size="16" text-anchor="end" >0</text>
<line x1="99.00" y1="1009.70" x2="99.00" y2="1014.70" stroke="#000" stroke-width="2.5" />
<line x1="171.68" y1="1009.70" x2="171.68" y2="1014.70" stroke="#000" stroke-width="2.5" />
<line x1="244.36" y1="1009.70" x2="244.36" y2="1014.70" stroke="#000" stroke-width="2.5" />
<line x1="317.04" y1="1009.70" x2="317.04" y2="1014.70" stroke="#000" stroke-width="2.5" />
<line x1="389.72" y1="1009.70" x2="389.72" y2="1014.70" stroke="#000" stroke-width="2.5" />
<line x1="135.34" y1="1009.70" x2="135.34" y2="1012.70" stroke="#000" stroke-width="2.5" />
<line x1="208.02" y1="1009.70" x2="208.02" y2="1012.70" stroke="#000" stroke-width="2.5" />
<line x1="280.70" y1="1009.70" x2="280.70" y2="1012.70" stroke="#000" stroke-width="2.5" />
<line x1="353.38" y1="1009.70" x2="353.38" y2="1012.70" stroke="#000" stroke-width="2.5" />
<line x1="426.06" y1="1009.70" x2="426.06" y2="1012.70" stroke="#000" stroke-width="2.5" />
<text x="99.00" y="1031.20" font-size="16" text-anchor="middle" >0.2</text>
<text x="171.68" y="1031.20" font-size="16" text-anchor="middle" >0.4</text>
<text x="244.36" y="1031.20" font-size="16" text-anchor="middle" >0.6</text>
<text x="317.04" y="1031.20" font-size="16" text-anchor="middle" >0.8</text>
<text x="389.72" y="1031.20" font-size="16" text-anchor="middle" >1.0</text>
<text x="176.10" y="1064.60" font-size="24" text-anchor="start" >E (V vs.RHE)</text>
<text transform="translate(51.00,941.10) rotate(-90)" font-size="24">J (mA.cm<tspan font-size="15" dy="-10.5">-2</tspan><tspan dy="10.5">)</tspan></text>
<text x="123.30" y="770.40" font-size="17.3" text-anchor="start" >Fe-Pd UPM</text>
<line x1="119.90" y1="788.50" x2="149.70" y2="788.50" stroke="#FF0000" stroke-width="2.5" />
<line x1="119.90" y1="809.70" x2="149.70" y2="809.70" stroke="#0000FF" stroke-width="2.5" />
<text x="152.00" y="792.50" font-size="17.2" text-anchor="start" >Initial</text>
<text x="152.00" y="813.90" font-size="17.2" text-anchor="start" >After 10000 cycles</text>
<rect x="604.50" y="815.40" width="11.60" height="194.00" fill="#0000FF" stroke="#111" stroke-width="0.8"/>
<rect x="616.10" y="825.10" width="11.70" height="184.30" fill="#FF00FF" stroke="#111" stroke-width="0.8"/>
<rect x="642.60" y="978.10" width="11.70" height="31.30" fill="#0000FF" stroke="#111" stroke-width="0.8"/>
<rect x="654.30" y="986.20" width="11.50" height="23.20" fill="#FF00FF" stroke="#111" stroke-width="0.8"/>
<rect x="681.00" y="987.00" width="11.60" height="22.40" fill="#0000FF" stroke="#111" stroke-width="0.8"/>
<rect x="692.60" y="993.50" width="11.20" height="15.90" fill="#FF00FF" stroke="#111" stroke-width="0.8"/>
<rect x="719.20" y="978.80" width="11.60" height="30.60" fill="#0000FF" stroke="#111" stroke-width="0.8"/>
<rect x="730.80" y="987.90" width="11.10" height="21.50" fill="#FF00FF" stroke="#111" stroke-width="0.8"/>
<rect x="770.50" y="844.00" width="11.10" height="165.40" fill="#0000FF" stroke="#111" stroke-width="0.8"/>
<rect x="781.60" y="862.40" width="11.10" height="147.00" fill="#FF00FF" stroke="#111" stroke-width="0.8"/>
<rect x="809.40" y="947.80" width="11.10" height="61.60" fill="#0000FF" stroke="#111" stroke-width="0.8"/>
<rect x="820.50" y="959.20" width="10.60" height="50.20" fill="#FF00FF" stroke="#111" stroke-width="0.8"/>
<rect x="848.10" y="969.60" width="11.10" height="39.80" fill="#0000FF" stroke="#111" stroke-width="0.8"/>
<rect x="859.20" y="975.40" width="10.60" height="34.00" fill="#FF00FF" stroke="#111" stroke-width="0.8"/>
<rect x="887.00" y="950.80" width="11.00" height="58.60" fill="#0000FF" stroke="#111" stroke-width="0.8"/>
<rect x="898.00" y="963.50" width="10.70" height="45.90" fill="#FF00FF" stroke="#111" stroke-width="0.8"/>
<rect x="768.50" y="874.70" width="26.50" height="6.00" fill="#fff"/>
<line x1="757.00" y1="795.80" x2="757.00" y2="1006.00" stroke="#FF8CFF" stroke-width="2" stroke-dasharray="7.4,6.1"/>
<rect x="589.40" y="745.90" width="328.00" height="263.50" fill="none" stroke="#000" stroke-width="2.5"/>
<line x1="584.40" y1="1009.40" x2="589.40" y2="1009.40" stroke="#000" stroke-width="2.5" />
<line x1="584.40" y1="956.70" x2="589.40" y2="956.70" stroke="#000" stroke-width="2.5" />
<line x1="584.40" y1="904.00" x2="589.40" y2="904.00" stroke="#000" stroke-width="2.5" />
<line x1="584.40" y1="851.30" x2="589.40" y2="851.30" stroke="#000" stroke-width="2.5" />
<line x1="584.40" y1="798.60" x2="589.40" y2="798.60" stroke="#000" stroke-width="2.5" />
<line x1="584.40" y1="745.90" x2="589.40" y2="745.90" stroke="#000" stroke-width="2.5" />
<line x1="586.40" y1="983.05" x2="589.40" y2="983.05" stroke="#000" stroke-width="2.5" />
<line x1="586.40" y1="930.35" x2="589.40" y2="930.35" stroke="#000" stroke-width="2.5" />
<line x1="586.40" y1="877.65" x2="589.40" y2="877.65" stroke="#000" stroke-width="2.5" />
<line x1="586.40" y1="824.95" x2="589.40" y2="824.95" stroke="#000" stroke-width="2.5" />
<line x1="586.40" y1="772.25" x2="589.40" y2="772.25" stroke="#000" stroke-width="2.5" />
<text x="581.00" y="1014.20" font-size="16" text-anchor="end" >0.0</text>
<text x="581.00" y="961.50" font-size="16" text-anchor="end" >0.2</text>
<text x="581.00" y="908.80" font-size="16" text-anchor="end" >0.4</text>
<text x="581.00" y="856.10" font-size="16" text-anchor="end" >0.6</text>
<text x="581.00" y="803.40" font-size="16" text-anchor="end" >0.8</text>
<text x="581.00" y="750.70" font-size="16" text-anchor="end" >1.0</text>
<line x1="917.40" y1="1009.40" x2="922.40" y2="1009.40" stroke="#000" stroke-width="2.5" />
<text x="925.50" y="1014.20" font-size="16" text-anchor="start" >0.0</text>
<line x1="917.40" y1="951.75" x2="922.40" y2="951.75" stroke="#000" stroke-width="2.5" />
<text x="925.50" y="956.55" font-size="16" text-anchor="start" >0.4</text>
<line x1="917.40" y1="894.10" x2="922.40" y2="894.10" stroke="#000" stroke-width="2.5" />
<text x="925.50" y="898.90" font-size="16" text-anchor="start" >0.8</text>
<line x1="917.40" y1="980.57" x2="920.40" y2="980.57" stroke="#000" stroke-width="2.5" />
<line x1="917.40" y1="922.92" x2="920.40" y2="922.92" stroke="#000" stroke-width="2.5" />
<line x1="917.40" y1="861.20" x2="922.40" y2="861.20" stroke="#000" stroke-width="2.5" />
<text x="925.50" y="866.00" font-size="16" text-anchor="start" >2.8</text>
<line x1="917.40" y1="803.55" x2="922.40" y2="803.55" stroke="#000" stroke-width="2.5" />
<text x="925.50" y="808.35" font-size="16" text-anchor="start" >3.2</text>
<line x1="917.40" y1="745.90" x2="922.40" y2="745.90" stroke="#000" stroke-width="2.5" />
<text x="925.50" y="750.70" font-size="16" text-anchor="start" >3.6</text>
<line x1="917.40" y1="832.38" x2="920.40" y2="832.38" stroke="#000" stroke-width="2.5" />
<line x1="917.40" y1="774.73" x2="920.40" y2="774.73" stroke="#000" stroke-width="2.5" />
<polygon points="911.8,878.6 924,873 924,877.7 911.8,883.3" fill="#fff"/>
<line x1="912.60" y1="877.50" x2="922.60" y2="873.00" stroke="#000" stroke-width="2.1" />
<line x1="912.60" y1="882.60" x2="922.60" y2="878.00" stroke="#000" stroke-width="2.1" />
<rect x="631.00" y="754.40" width="33.50" height="16.50" fill="#0000FF" stroke="#000" stroke-width="0.9"/>
<rect x="631.00" y="776.30" width="33.50" height="16.50" fill="#FF00FF" stroke="#000" stroke-width="0.9"/>
<text x="668.30" y="767.30" font-size="17.3" text-anchor="start" >Initial</text>
<text x="668.30" y="789.00" font-size="17.3" text-anchor="start" >After 10,000 cycles</text>
<text x="632.60" y="812.20" font-size="14.6" text-anchor="start" >@ 0.9 V vs.RHE</text>
<text x="785.60" y="812.20" font-size="14.6" text-anchor="start" >@ 0.85 V vs.RHE</text>
<text transform="translate(543.70,957.00) rotate(-90)" font-size="24">J (A mg<tspan font-size="15" dy="-9.5">-1</tspan><tspan font-size="14.5" dy="14.5"> Pd or Pt</tspan><tspan dy="-5">)</tspan></text>
<text transform="translate(978.30,962.70) rotate(-90)" font-size="24">J (A mg<tspan font-size="15" dy="-9.5">-1</tspan><tspan font-size="14.5" dy="14.5"> Pd or Pt</tspan><tspan dy="-5">)</tspan></text>
<text transform="translate(539.34,1108.26) rotate(-45)" font-size="21">Fe-Pd UPM</text>
<text transform="translate(573.04,1117.66) rotate(-45)" font-size="21">Pd metallene</text>
<text transform="translate(675.04,1061.76) rotate(-45)" font-size="21">Pd/C</text>
<text transform="translate(718.24,1056.36) rotate(-45)" font-size="21">Pt/C</text>
<text transform="translate(709.34,1108.26) rotate(-45)" font-size="21">Fe-Pd UPM</text>
<text transform="translate(741.34,1119.46) rotate(-45)" font-size="21">Pd metallene</text>
<text transform="translate(845.04,1060.76) rotate(-45)" font-size="21">Pd/C</text>
<text transform="translate(887.14,1056.76) rotate(-45)" font-size="21">Pt/C</text>
</svg></body></html>
